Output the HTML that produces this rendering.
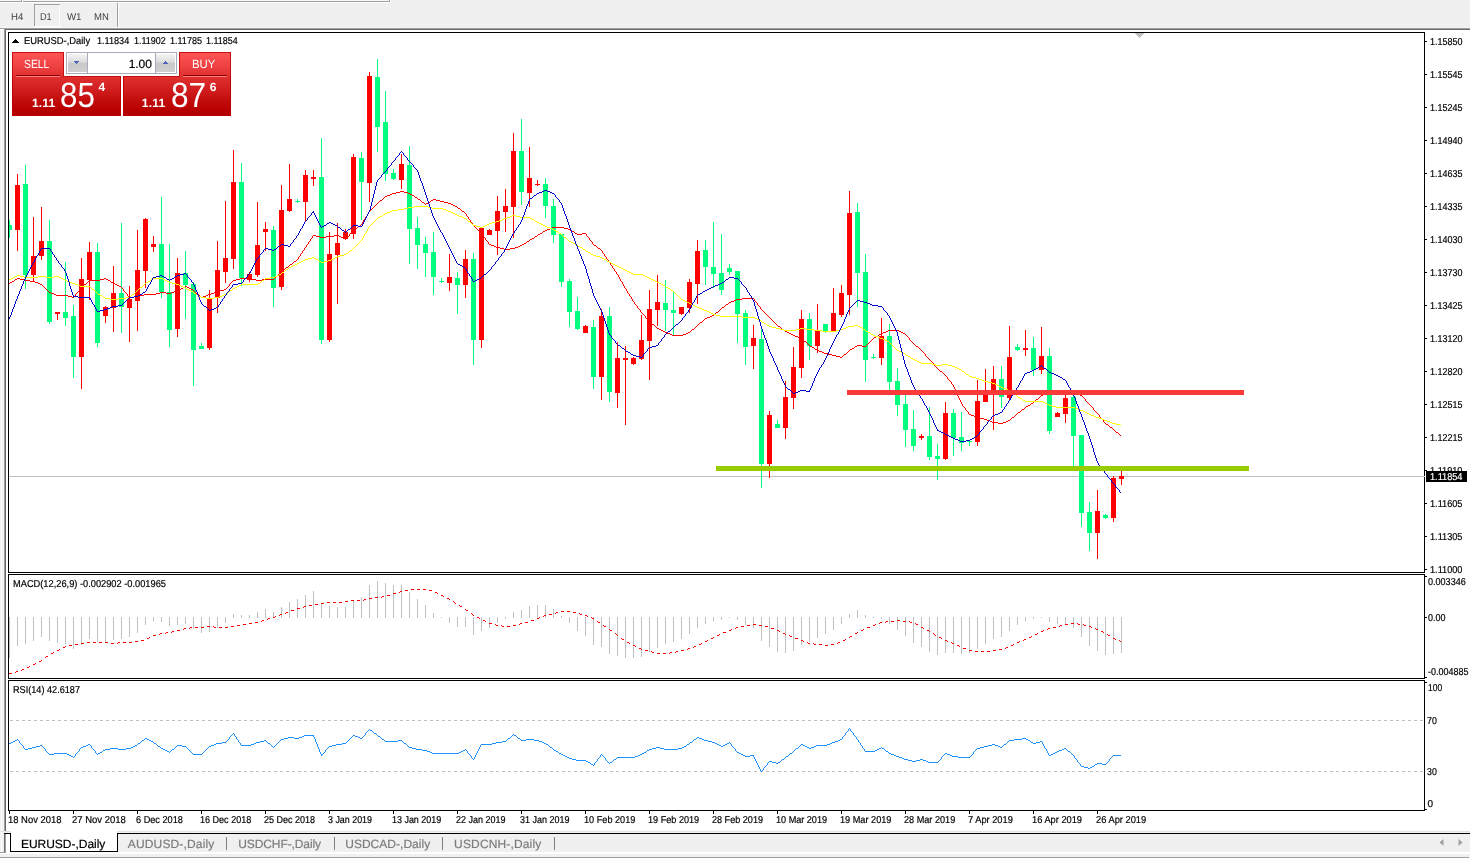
<!DOCTYPE html>
<html><head><meta charset="utf-8"><title>EURUSD-,Daily</title>
<style>
*{box-sizing:border-box}
html,body{margin:0;padding:0}
body{width:1470px;height:859px;overflow:hidden;background:#f0f0f0;position:relative;font-family:"Liberation Sans",sans-serif}
#g{position:absolute;left:0;top:0}
.a{position:absolute}
.t{position:absolute;white-space:nowrap;color:#000;font-size:10px;line-height:1.2;text-rendering:geometricPrecision;-webkit-text-stroke:0.2px currentColor}
.n{-webkit-text-stroke:0}
.tb{color:#404040}
.w{color:#fff}
.b{font-weight:bold}
.rb{background:linear-gradient(#ff5555,#e03030);border:1px solid #c81010}
.rp{background:linear-gradient(#e03030,#b80000 85%,#b00000);border:1px solid #c00000;border-top-color:#c81010}
.sp{background:linear-gradient(#f4f4f4,#dcdcdc 45%,#c8c8c8 50%,#d0d0d0)}
</style></head>
<body>
<div class="a" style="left:0px;top:0px;width:390px;height:1px;background:#f8f8f8;"></div><div class="a" style="left:0px;top:1px;width:390px;height:1px;background:#a0a0a0;"></div><div class="a" style="left:0px;top:2px;width:391px;height:1px;background:#fff;"></div><div class="a" style="left:389px;top:0px;width:1px;height:2px;background:#a0a0a0;"></div><div class="a" style="left:390px;top:0px;width:1px;height:3px;background:#fff;"></div><div class="a" style="left:21px;top:0px;width:1px;height:2px;background:#a0a0a0;"></div><div class="a" style="left:22px;top:0px;width:1px;height:2px;background:#fff;"></div><div class="a" style="left:34px;top:4px;width:26px;height:1px;background:#a0a0a0;"></div><div class="a" style="left:34px;top:4px;width:1px;height:22px;background:#a0a0a0;"></div><div class="a" style="left:59px;top:5px;width:1px;height:22px;background:#fff;"></div><div class="a" style="left:35px;top:26px;width:25px;height:1px;background:#fff;"></div><div class="a" style="left:117px;top:3px;width:1px;height:25px;background:#a0a0a0;"></div><div class="a" style="left:118px;top:3px;width:1px;height:25px;background:#fff;"></div><div class="a" style="left:0px;top:27px;width:400px;height:1px;background:#f8f8f8;"></div><div class="a" style="left:0px;top:28px;width:1470px;height:1px;background:#a0a0a0;"></div><div class="a" style="left:5px;top:29px;width:1465px;height:1px;background:#696969;"></div><div class="a" style="left:0px;top:29px;width:4px;height:1px;background:#fff;"></div><div class="a" style="left:1px;top:30px;width:1px;height:802px;background:#fcfcfc;"></div><div class="a" style="left:3px;top:30px;width:1px;height:802px;background:#f4f4f4;"></div><div class="a" style="left:4px;top:29px;width:1px;height:803px;background:#a0a0a0;"></div><div class="a" style="left:5px;top:30px;width:1px;height:802px;background:#696969;"></div><div class="t tb n" style="left:11.00px;top:12px;font-size:10px;transform:scaleX(0.9600);transform-origin:0 0;">H4</div><div class="t tb n" style="left:39.90px;top:12px;font-size:10px;transform:scaleX(0.9132);transform-origin:0 0;">D1</div><div class="t tb n" style="left:67.30px;top:12px;font-size:10px;transform:scaleX(0.9667);transform-origin:0 0;">W1</div><div class="t tb n" style="left:93.80px;top:12px;font-size:10px;transform:scaleX(0.9510);transform-origin:0 0;">MN</div>
<svg id="g" width="1470" height="859" viewBox="0 0 1470 859" shape-rendering="crispEdges"><rect x="6" y="30" width="1464" height="801" fill="#fff"/><rect x="9" y="476" width="1415" height="1" fill="#c0c0c0"/><g><path fill="#00ff7f" d="M9 220h1v18h-1zM9 225h3v5h-3zM25 165h1v124h-1zM23 184h5v91h-5zM49 220h1v104h-1zM47 241h5v81h-5zM65 262h1v64h-1zM63 312h5v6h-5zM73 305h1v73h-1zM71 316h5v41h-5zM97 243h1v104h-1zM95 252h5v91h-5zM121 223h1v110h-1zM119 293h5v14h-5zM161 197h1v101h-1zM159 244h5v48h-5zM169 244h1v103h-1zM167 292h5v38h-5zM185 251h1v68h-1zM183 273h5v12h-5zM193 282h1v104h-1zM191 284h5v66h-5zM201 343h1v6h-1zM199 346h5v3h-5zM241 163h1v123h-1zM239 182h5v96h-5zM273 226h1v81h-1zM271 230h5v58h-5zM297 199h1v4h-1zM295 201h5v1h-5zM321 138h1v206h-1zM319 177h5v163h-5zM361 152h1v68h-1zM359 158h5v24h-5zM377 59h1v93h-1zM375 77h5v50h-5zM385 91h1v90h-1zM383 122h5v52h-5zM393 169h1v11h-1zM391 173h5v6h-5zM409 146h1v118h-1zM407 165h5v64h-5zM417 217h1v52h-1zM415 228h5v17h-5zM425 237h1v40h-1zM423 244h5v9h-5zM433 232h1v63h-1zM431 252h5v25h-5zM441 278h1v5h-1zM439 281h5v1h-5zM457 272h1v42h-1zM455 278h5v7h-5zM473 253h1v112h-1zM471 259h5v81h-5zM521 119h1v86h-1zM519 151h5v41h-5zM545 178h1v40h-1zM543 184h5v22h-5zM553 199h1v44h-1zM551 206h5v29h-5zM561 234h1v53h-1zM559 234h5v48h-5zM569 279h1v48h-1zM567 281h5v31h-5zM577 297h1v33h-1zM575 311h5v18h-5zM593 320h1v69h-1zM591 327h5v50h-5zM609 307h1v95h-1zM607 316h5v76h-5zM665 280h1v51h-1zM663 303h5v7h-5zM673 292h1v43h-1zM671 310h5v3h-5zM705 240h1v45h-1zM703 250h5v17h-5zM713 222h1v66h-1zM711 267h5v7h-5zM721 234h1v61h-1zM719 273h5v17h-5zM729 264h1v11h-1zM727 268h5v4h-5zM737 271h1v72h-1zM735 271h5v43h-5zM745 310h1v55h-1zM743 313h5v34h-5zM761 329h1v159h-1zM759 339h5v125h-5zM777 420h1v8h-1zM775 424h5v4h-5zM809 313h1v47h-1zM807 319h5v27h-5zM825 324h1v9h-1zM823 324h5v8h-5zM857 203h1v104h-1zM855 212h5v61h-5zM865 254h1v128h-1zM863 272h5v88h-5zM873 354h1v5h-1zM871 357h5v1h-5zM889 324h1v68h-1zM887 336h5v46h-5zM897 368h1v48h-1zM895 381h5v24h-5zM905 392h1v55h-1zM903 404h5v26h-5zM913 410h1v41h-1zM911 429h5v17h-5zM929 407h1v53h-1zM927 436h5v21h-5zM937 444h1v36h-1zM935 456h5v3h-5zM953 409h1v47h-1zM951 413h5v25h-5zM961 412h1v39h-1zM959 437h5v6h-5zM969 440h1v6h-1zM967 441h5v1h-5zM1001 366h1v42h-1zM999 379h5v18h-5zM1017 344h1v7h-1zM1015 347h5v3h-5zM1033 337h1v39h-1zM1031 348h5v22h-5zM1049 348h1v86h-1zM1047 356h5v75h-5zM1073 392h1v76h-1zM1071 397h5v39h-5zM1081 435h1v92h-1zM1079 435h5v78h-5zM1089 502h1v49h-1zM1087 512h5v21h-5zM1105 514h1v5h-1zM1103 515h5v3h-5z"/><path fill="#ff0000" d="M17 174h1v77h-1zM15 185h5v45h-5zM33 217h1v64h-1zM31 256h5v19h-5zM41 207h1v53h-1zM39 241h5v15h-5zM57 312h1v8h-1zM55 312h5v2h-5zM81 258h1v131h-1zM79 279h5v78h-5zM89 242h1v58h-1zM87 252h5v28h-5zM105 306h1v17h-1zM103 307h5v9h-5zM113 266h1v66h-1zM111 293h5v15h-5zM129 286h1v56h-1zM127 299h5v9h-5zM137 230h1v101h-1zM135 270h5v31h-5zM145 218h1v70h-1zM143 219h5v52h-5zM153 236h1v16h-1zM151 244h5v3h-5zM177 258h1v79h-1zM175 273h5v56h-5zM209 290h1v60h-1zM207 299h5v49h-5zM217 241h1v72h-1zM215 270h5v28h-5zM225 201h1v82h-1zM223 258h5v14h-5zM233 150h1v119h-1zM231 182h5v77h-5zM249 272h1v10h-1zM247 274h5v6h-5zM257 202h1v75h-1zM255 245h5v30h-5zM265 222h1v29h-1zM263 229h5v3h-5zM281 185h1v105h-1zM279 210h5v77h-5zM289 164h1v48h-1zM287 199h5v12h-5zM305 170h1v51h-1zM303 175h5v27h-5zM313 170h1v16h-1zM311 177h5v2h-5zM329 232h1v110h-1zM327 254h5v86h-5zM337 223h1v81h-1zM335 243h5v12h-5zM345 229h1v11h-1zM343 232h5v7h-5zM353 154h1v85h-1zM351 157h5v77h-5zM369 72h1v130h-1zM367 76h5v107h-5zM401 154h1v35h-1zM399 164h5v16h-5zM449 254h1v37h-1zM447 277h5v6h-5zM465 250h1v48h-1zM463 259h5v26h-5zM481 227h1v121h-1zM479 228h5v112h-5zM489 229h1v6h-1zM487 230h5v5h-5zM497 196h1v59h-1zM495 211h5v20h-5zM505 189h1v43h-1zM503 206h5v6h-5zM513 133h1v105h-1zM511 151h5v56h-5zM529 147h1v60h-1zM527 178h5v15h-5zM537 180h1v6h-1zM535 184h5v1h-5zM585 325h1v8h-1zM583 326h5v7h-5zM601 309h1v91h-1zM599 316h5v61h-5zM617 342h1v66h-1zM615 358h5v35h-5zM625 346h1v79h-1zM623 358h5v2h-5zM633 357h1v8h-1zM631 358h5v6h-5zM641 315h1v45h-1zM639 340h5v19h-5zM649 290h1v90h-1zM647 309h5v32h-5zM657 275h1v51h-1zM655 302h5v8h-5zM681 307h1v8h-1zM679 307h5v7h-5zM689 279h1v34h-1zM687 282h5v26h-5zM697 240h1v64h-1zM695 251h5v33h-5zM753 325h1v44h-1zM751 338h5v8h-5zM769 411h1v67h-1zM767 415h5v49h-5zM785 381h1v58h-1zM783 397h5v31h-5zM793 347h1v62h-1zM791 367h5v31h-5zM801 310h1v68h-1zM799 319h5v49h-5zM817 304h1v49h-1zM815 331h5v15h-5zM833 288h1v43h-1zM831 313h5v18h-5zM841 285h1v32h-1zM839 293h5v22h-5zM849 191h1v124h-1zM847 213h5v82h-5zM881 318h1v47h-1zM879 336h5v22h-5zM921 434h1v6h-1zM919 436h5v2h-5zM945 402h1v58h-1zM943 413h5v46h-5zM977 380h1v66h-1zM975 401h5v41h-5zM985 369h1v33h-1zM983 392h5v10h-5zM993 366h1v64h-1zM991 379h5v13h-5zM1009 326h1v74h-1zM1007 357h5v41h-5zM1025 330h1v26h-1zM1023 348h5v2h-5zM1041 327h1v47h-1zM1039 356h5v14h-5zM1057 412h1v5h-1zM1055 413h5v4h-5zM1065 392h1v31h-1zM1063 398h5v16h-5zM1097 490h1v69h-1zM1095 511h5v22h-5zM1113 476h1v46h-1zM1111 478h5v40h-5zM1121 468h1v17h-1zM1119 476h5v3h-5z"/><path fill="#ff0000" d="M400 191h4v1h-4zM396 192h4v1h-4zM404 192h4v1h-4zM392 193h4v1h-4zM408 193h2v1h-2zM390 194h2v1h-2zM410 194h2v1h-2zM387 195h3v1h-3zM412 195h2v1h-2zM385 196h2v1h-2zM414 196h1v1h-1zM384 197h1v1h-1zM415 197h2v1h-2zM383 198h1v1h-1zM417 198h1v1h-1zM382 199h1v1h-1zM418 199h2v1h-2zM433 199h3v1h-3zM380 200h2v1h-2zM420 200h1v1h-1zM431 200h2v1h-2zM436 200h4v1h-4zM379 201h1v1h-1zM421 201h1v1h-1zM430 201h1v1h-1zM440 201h4v1h-4zM378 202h1v1h-1zM422 202h2v1h-2zM428 202h2v1h-2zM444 202h4v1h-4zM377 203h1v1h-1zM424 203h1v1h-1zM426 203h2v1h-2zM448 203h3v1h-3zM376 204h1v1h-1zM425 204h1v1h-1zM451 204h2v1h-2zM375 205h1v1h-1zM453 205h2v1h-2zM374 206h1v1h-1zM455 206h2v1h-2zM373 207h1v1h-1zM457 207h1v1h-1zM372 208h1v1h-1zM458 208h2v1h-2zM371 209h1v1h-1zM460 209h1v1h-1zM370 210h1v1h-1zM461 210h1v1h-1zM369 211h1v1h-1zM462 211h2v1h-2zM368 212h1v2h-1zM464 212h1v1h-1zM465 213h1v1h-1zM367 214h1v2h-1zM466 214h1v2h-1zM366 216h1v1h-1zM467 216h1v1h-1zM365 217h1v2h-1zM468 217h1v2h-1zM364 219h1v1h-1zM469 219h1v1h-1zM363 220h1v2h-1zM470 220h1v2h-1zM362 222h1v2h-1zM471 222h1v1h-1zM472 223h1v2h-1zM361 224h1v1h-1zM360 225h1v1h-1zM473 225h1v1h-1zM358 226h2v1h-2zM474 226h1v1h-1zM357 227h1v1h-1zM475 227h1v1h-1zM552 227h12v1h-12zM356 228h1v1h-1zM476 228h1v1h-1zM550 228h2v1h-2zM564 228h4v1h-4zM354 229h2v1h-2zM477 229h1v1h-1zM547 229h3v1h-3zM568 229h2v1h-2zM353 230h1v1h-1zM478 230h1v1h-1zM545 230h2v1h-2zM570 230h2v1h-2zM352 231h1v1h-1zM479 231h1v1h-1zM543 231h2v1h-2zM572 231h2v1h-2zM351 232h1v1h-1zM480 232h1v1h-1zM542 232h1v1h-1zM574 232h1v1h-1zM350 233h1v1h-1zM481 233h1v1h-1zM540 233h2v1h-2zM575 233h2v1h-2zM582 233h4v1h-4zM349 234h1v2h-1zM482 234h1v2h-1zM538 234h2v1h-2zM577 234h5v1h-5zM586 234h1v2h-1zM313 235h3v1h-3zM334 235h5v1h-5zM537 235h1v1h-1zM312 236h1v2h-1zM316 236h4v1h-4zM326 236h8v1h-8zM339 236h2v1h-2zM348 236h1v1h-1zM483 236h1v1h-1zM535 236h2v1h-2zM587 236h1v1h-1zM320 237h6v1h-6zM341 237h2v1h-2zM347 237h1v1h-1zM484 237h1v1h-1zM534 237h1v1h-1zM588 237h1v1h-1zM311 238h1v1h-1zM343 238h2v1h-2zM346 238h1v1h-1zM485 238h1v2h-1zM532 238h2v1h-2zM589 238h1v2h-1zM310 239h1v2h-1zM345 239h1v1h-1zM530 239h2v1h-2zM486 240h1v1h-1zM529 240h1v1h-1zM590 240h1v1h-1zM309 241h1v1h-1zM487 241h1v1h-1zM527 241h2v1h-2zM591 241h1v1h-1zM308 242h1v2h-1zM488 242h1v2h-1zM526 242h1v1h-1zM592 242h1v2h-1zM524 243h2v1h-2zM307 244h1v1h-1zM489 244h2v1h-2zM522 244h2v1h-2zM593 244h1v1h-1zM306 245h1v2h-1zM491 245h3v1h-3zM520 245h2v1h-2zM594 245h2v1h-2zM494 246h2v1h-2zM518 246h2v1h-2zM596 246h1v1h-1zM305 247h1v1h-1zM496 247h4v1h-4zM515 247h3v1h-3zM597 247h1v1h-1zM304 248h1v2h-1zM500 248h4v1h-4zM510 248h5v1h-5zM598 248h2v1h-2zM504 249h6v1h-6zM600 249h1v1h-1zM303 250h1v1h-1zM601 250h1v1h-1zM302 251h1v2h-1zM602 251h1v2h-1zM301 253h1v1h-1zM603 253h1v1h-1zM300 254h1v2h-1zM604 254h1v2h-1zM299 256h1v1h-1zM605 256h1v1h-1zM298 257h1v2h-1zM606 257h1v2h-1zM297 259h1v1h-1zM607 259h1v1h-1zM296 260h1v1h-1zM608 260h1v2h-1zM294 261h2v1h-2zM293 262h1v1h-1zM609 262h1v1h-1zM292 263h1v1h-1zM610 263h1v2h-1zM290 264h2v1h-2zM289 265h1v1h-1zM611 265h1v1h-1zM288 266h1v1h-1zM612 266h1v2h-1zM286 267h2v1h-2zM285 268h1v1h-1zM613 268h1v1h-1zM284 269h1v1h-1zM614 269h1v2h-1zM282 270h2v1h-2zM281 271h1v1h-1zM615 271h1v1h-1zM280 272h1v1h-1zM616 272h1v2h-1zM279 273h1v1h-1zM278 274h1v1h-1zM617 274h1v1h-1zM277 275h1v1h-1zM618 275h1v2h-1zM276 276h1v1h-1zM275 277h1v1h-1zM619 277h1v2h-1zM17 278h3v1h-3zM104 278h2v1h-2zM240 278h12v1h-12zM274 278h1v1h-1zM15 279h2v1h-2zM20 279h4v1h-4zM100 279h4v1h-4zM106 279h2v1h-2zM236 279h4v1h-4zM252 279h4v1h-4zM262 279h12v1h-12zM620 279h1v2h-1zM14 280h1v1h-1zM24 280h6v1h-6zM89 280h11v1h-11zM108 280h2v1h-2zM233 280h3v1h-3zM256 280h6v1h-6zM12 281h2v1h-2zM30 281h5v1h-5zM88 281h1v1h-1zM110 281h1v1h-1zM232 281h1v1h-1zM621 281h1v1h-1zM10 282h2v1h-2zM35 282h3v1h-3zM87 282h1v1h-1zM111 282h2v1h-2zM231 282h1v1h-1zM622 282h1v2h-1zM9 283h1v1h-1zM38 283h2v1h-2zM86 283h1v1h-1zM113 283h2v1h-2zM230 283h1v1h-1zM40 284h2v1h-2zM84 284h2v1h-2zM115 284h2v1h-2zM229 284h1v2h-1zM623 284h1v2h-1zM42 285h1v1h-1zM83 285h1v1h-1zM117 285h2v1h-2zM43 286h1v1h-1zM82 286h1v1h-1zM119 286h2v1h-2zM185 286h2v1h-2zM228 286h1v1h-1zM624 286h1v2h-1zM44 287h1v1h-1zM81 287h1v1h-1zM121 287h1v1h-1zM183 287h2v1h-2zM187 287h2v1h-2zM227 287h1v1h-1zM45 288h1v1h-1zM80 288h1v1h-1zM122 288h1v1h-1zM181 288h2v1h-2zM189 288h2v1h-2zM226 288h1v1h-1zM625 288h1v1h-1zM46 289h1v1h-1zM79 289h1v2h-1zM123 289h1v2h-1zM179 289h2v1h-2zM191 289h2v1h-2zM224 289h2v1h-2zM626 289h1v2h-1zM47 290h1v1h-1zM176 290h3v1h-3zM193 290h1v1h-1zM220 290h4v1h-4zM48 291h1v1h-1zM78 291h1v1h-1zM124 291h1v1h-1zM174 291h2v1h-2zM194 291h1v1h-1zM216 291h4v1h-4zM627 291h1v2h-1zM49 292h2v1h-2zM77 292h1v1h-1zM125 292h1v1h-1zM160 292h6v1h-6zM171 292h3v1h-3zM195 292h1v1h-1zM214 292h2v1h-2zM51 293h3v1h-3zM76 293h1v1h-1zM126 293h1v1h-1zM156 293h4v1h-4zM166 293h5v1h-5zM196 293h2v1h-2zM211 293h3v1h-3zM628 293h1v1h-1zM54 294h2v1h-2zM75 294h1v2h-1zM127 294h1v2h-1zM144 294h12v1h-12zM198 294h1v1h-1zM208 294h3v1h-3zM629 294h1v2h-1zM56 295h12v1h-12zM140 295h4v1h-4zM199 295h1v1h-1zM206 295h2v1h-2zM68 296h4v1h-4zM74 296h1v1h-1zM128 296h1v1h-1zM134 296h6v1h-6zM200 296h1v1h-1zM203 296h3v1h-3zM630 296h1v1h-1zM72 297h2v1h-2zM129 297h5v1h-5zM201 297h2v1h-2zM631 297h1v2h-1zM742 298h12v1h-12zM632 299h1v2h-1zM736 299h6v1h-6zM754 299h1v2h-1zM734 300h2v1h-2zM633 301h1v1h-1zM731 301h3v1h-3zM755 301h1v1h-1zM634 302h1v2h-1zM729 302h2v1h-2zM756 302h1v1h-1zM728 303h1v1h-1zM757 303h1v2h-1zM635 304h1v1h-1zM726 304h2v1h-2zM636 305h1v1h-1zM725 305h1v1h-1zM758 305h1v1h-1zM637 306h1v2h-1zM724 306h1v1h-1zM759 306h1v1h-1zM722 307h2v1h-2zM760 307h1v2h-1zM638 308h1v1h-1zM721 308h1v1h-1zM639 309h1v1h-1zM720 309h1v1h-1zM761 309h1v1h-1zM640 310h1v2h-1zM719 310h1v1h-1zM762 310h1v1h-1zM718 311h1v1h-1zM763 311h1v1h-1zM641 312h1v1h-1zM716 312h2v1h-2zM764 312h1v1h-1zM642 313h1v1h-1zM715 313h1v1h-1zM765 313h1v1h-1zM643 314h1v1h-1zM714 314h1v1h-1zM766 314h1v1h-1zM644 315h1v1h-1zM712 315h2v1h-2zM767 315h1v1h-1zM645 316h1v2h-1zM710 316h2v1h-2zM768 316h1v1h-1zM707 317h3v1h-3zM769 317h1v1h-1zM646 318h1v1h-1zM705 318h2v1h-2zM770 318h1v1h-1zM647 319h1v1h-1zM704 319h1v1h-1zM771 319h1v1h-1zM648 320h1v1h-1zM703 320h1v1h-1zM772 320h1v1h-1zM649 321h1v1h-1zM702 321h1v1h-1zM773 321h1v1h-1zM650 322h1v1h-1zM700 322h2v1h-2zM774 322h1v1h-1zM651 323h1v1h-1zM699 323h1v1h-1zM775 323h1v1h-1zM652 324h2v1h-2zM698 324h1v1h-1zM776 324h1v1h-1zM654 325h1v1h-1zM697 325h1v1h-1zM777 325h1v1h-1zM655 326h1v1h-1zM696 326h1v1h-1zM778 326h2v1h-2zM656 327h1v1h-1zM695 327h1v1h-1zM780 327h1v1h-1zM657 328h2v1h-2zM694 328h1v1h-1zM781 328h1v1h-1zM659 329h2v1h-2zM692 329h2v1h-2zM782 329h2v1h-2zM661 330h2v1h-2zM691 330h1v1h-1zM784 330h1v1h-1zM888 330h11v1h-11zM663 331h2v1h-2zM690 331h1v1h-1zM785 331h2v1h-2zM886 331h2v1h-2zM899 331h2v1h-2zM665 332h2v1h-2zM688 332h2v1h-2zM787 332h2v1h-2zM883 332h3v1h-3zM901 332h2v1h-2zM667 333h3v1h-3zM686 333h2v1h-2zM789 333h2v1h-2zM881 333h2v1h-2zM903 333h2v1h-2zM670 334h2v1h-2zM683 334h3v1h-3zM791 334h2v1h-2zM879 334h2v1h-2zM905 334h1v1h-1zM672 335h11v1h-11zM793 335h2v1h-2zM878 335h1v1h-1zM906 335h1v1h-1zM795 336h3v1h-3zM876 336h2v1h-2zM907 336h1v1h-1zM798 337h2v1h-2zM874 337h2v1h-2zM908 337h1v1h-1zM800 338h2v1h-2zM873 338h1v1h-1zM909 338h1v2h-1zM802 339h1v1h-1zM872 339h1v1h-1zM803 340h1v1h-1zM871 340h1v1h-1zM910 340h1v1h-1zM804 341h2v1h-2zM870 341h1v1h-1zM911 341h1v1h-1zM806 342h1v1h-1zM869 342h1v1h-1zM912 342h1v1h-1zM807 343h1v1h-1zM868 343h1v1h-1zM913 343h1v1h-1zM808 344h1v1h-1zM867 344h1v1h-1zM914 344h1v1h-1zM809 345h1v1h-1zM857 345h5v1h-5zM866 345h1v1h-1zM915 345h1v1h-1zM810 346h2v1h-2zM855 346h2v1h-2zM862 346h4v1h-4zM916 346h2v1h-2zM812 347h2v1h-2zM854 347h1v1h-1zM918 347h1v1h-1zM814 348h1v1h-1zM852 348h2v1h-2zM919 348h1v1h-1zM815 349h2v1h-2zM850 349h2v1h-2zM920 349h1v1h-1zM817 350h2v1h-2zM849 350h1v1h-1zM921 350h1v1h-1zM819 351h3v1h-3zM848 351h1v1h-1zM922 351h1v1h-1zM822 352h2v1h-2zM847 352h1v1h-1zM923 352h1v1h-1zM824 353h4v1h-4zM846 353h1v1h-1zM924 353h1v1h-1zM828 354h4v1h-4zM844 354h2v1h-2zM925 354h1v2h-1zM832 355h4v1h-4zM843 355h1v1h-1zM836 356h4v1h-4zM842 356h1v1h-1zM926 356h1v1h-1zM840 357h2v1h-2zM927 357h1v1h-1zM928 358h1v1h-1zM929 359h1v1h-1zM930 360h1v1h-1zM931 361h1v1h-1zM932 362h1v1h-1zM933 363h1v2h-1zM934 365h1v1h-1zM935 366h1v1h-1zM936 367h1v1h-1zM937 368h1v1h-1zM938 369h1v1h-1zM939 370h1v1h-1zM940 371h2v1h-2zM942 372h1v1h-1zM943 373h1v1h-1zM944 374h1v1h-1zM945 375h1v1h-1zM946 376h1v1h-1zM947 377h1v2h-1zM948 379h1v1h-1zM949 380h1v1h-1zM950 381h1v1h-1zM951 382h1v2h-1zM952 384h1v1h-1zM953 385h1v2h-1zM954 387h1v2h-1zM955 389h1v2h-1zM956 391h1v2h-1zM1054 391h16v1h-16zM1048 392h6v1h-6zM1070 392h5v1h-5zM957 393h1v3h-1zM1046 393h2v1h-2zM1075 393h3v1h-3zM1043 394h3v1h-3zM1078 394h2v1h-2zM1041 395h2v1h-2zM1080 395h2v1h-2zM958 396h1v2h-1zM1040 396h1v1h-1zM1082 396h1v1h-1zM1039 397h1v1h-1zM1083 397h1v1h-1zM959 398h1v2h-1zM1038 398h1v1h-1zM1084 398h1v1h-1zM1036 399h2v1h-2zM1085 399h1v2h-1zM960 400h1v2h-1zM1035 400h1v1h-1zM1034 401h1v1h-1zM1086 401h1v1h-1zM961 402h1v2h-1zM1033 402h1v1h-1zM1087 402h1v1h-1zM1031 403h2v1h-2zM1088 403h1v1h-1zM962 404h1v2h-1zM1030 404h1v1h-1zM1089 404h1v1h-1zM1028 405h2v1h-2zM1090 405h1v1h-1zM963 406h1v1h-1zM1026 406h2v1h-2zM1091 406h1v1h-1zM964 407h1v1h-1zM1025 407h1v1h-1zM1092 407h1v1h-1zM965 408h1v2h-1zM1024 408h1v1h-1zM1093 408h1v2h-1zM1022 409h2v1h-2zM966 410h1v1h-1zM1021 410h1v1h-1zM1094 410h1v1h-1zM967 411h1v1h-1zM1020 411h1v1h-1zM1095 411h1v1h-1zM968 412h1v2h-1zM1018 412h2v1h-2zM1096 412h1v1h-1zM1017 413h1v1h-1zM1097 413h1v1h-1zM969 414h2v1h-2zM1016 414h1v1h-1zM1098 414h1v1h-1zM971 415h3v1h-3zM1015 415h1v1h-1zM1099 415h1v2h-1zM974 416h2v1h-2zM1014 416h1v1h-1zM976 417h4v1h-4zM1012 417h2v1h-2zM1100 417h1v1h-1zM980 418h4v1h-4zM1011 418h1v1h-1zM1101 418h1v1h-1zM984 419h3v1h-3zM1010 419h1v1h-1zM1102 419h1v1h-1zM987 420h3v1h-3zM1008 420h2v1h-2zM1103 420h1v2h-1zM990 421h2v1h-2zM1006 421h2v1h-2zM992 422h6v1h-6zM1003 422h3v1h-3zM1104 422h1v1h-1zM998 423h5v1h-5zM1105 423h1v1h-1zM1106 424h2v1h-2zM1108 425h1v1h-1zM1109 426h1v1h-1zM1110 427h2v1h-2zM1112 428h1v1h-1zM1113 429h1v1h-1zM1114 430h1v1h-1zM1115 431h1v1h-1zM1116 432h2v1h-2zM1118 433h1v1h-1zM1119 434h1v1h-1zM1120 435h1v1h-1z"/><path fill="#ffff00" d="M414 206h14v1h-14zM408 207h6v1h-6zM428 207h4v1h-4zM404 208h4v1h-4zM432 208h11v1h-11zM398 209h6v1h-6zM443 209h3v1h-3zM392 210h6v1h-6zM446 210h2v1h-2zM390 211h2v1h-2zM448 211h3v1h-3zM387 212h3v1h-3zM451 212h2v1h-2zM385 213h2v1h-2zM453 213h2v1h-2zM383 214h2v1h-2zM455 214h2v1h-2zM382 215h1v1h-1zM457 215h2v1h-2zM512 215h4v1h-4zM380 216h2v1h-2zM459 216h3v1h-3zM510 216h2v1h-2zM516 216h4v1h-4zM378 217h2v1h-2zM462 217h2v1h-2zM507 217h3v1h-3zM520 217h10v1h-10zM377 218h1v1h-1zM464 218h2v1h-2zM504 218h3v1h-3zM530 218h2v1h-2zM376 219h1v1h-1zM466 219h1v1h-1zM502 219h2v1h-2zM532 219h2v1h-2zM375 220h1v1h-1zM467 220h1v1h-1zM499 220h3v1h-3zM534 220h1v1h-1zM374 221h1v1h-1zM468 221h2v1h-2zM496 221h3v1h-3zM535 221h2v1h-2zM373 222h1v1h-1zM470 222h1v1h-1zM492 222h4v1h-4zM537 222h2v1h-2zM372 223h1v1h-1zM471 223h1v1h-1zM489 223h3v1h-3zM539 223h2v1h-2zM371 224h1v1h-1zM472 224h1v1h-1zM487 224h2v1h-2zM541 224h2v1h-2zM370 225h1v1h-1zM473 225h3v1h-3zM485 225h2v1h-2zM543 225h2v1h-2zM369 226h1v1h-1zM476 226h4v1h-4zM483 226h2v1h-2zM545 226h2v1h-2zM368 227h1v2h-1zM480 227h3v1h-3zM547 227h3v1h-3zM550 228h2v1h-2zM367 229h1v2h-1zM552 229h2v1h-2zM554 230h2v1h-2zM366 231h1v2h-1zM556 231h2v1h-2zM558 232h1v1h-1zM365 233h1v1h-1zM559 233h2v1h-2zM364 234h1v2h-1zM561 234h1v1h-1zM562 235h1v1h-1zM363 236h1v2h-1zM563 236h1v1h-1zM564 237h2v1h-2zM362 238h1v2h-1zM566 238h1v1h-1zM567 239h1v1h-1zM361 240h1v1h-1zM568 240h1v1h-1zM360 241h1v1h-1zM569 241h2v1h-2zM359 242h1v1h-1zM571 242h2v1h-2zM358 243h1v1h-1zM573 243h2v1h-2zM357 244h1v1h-1zM575 244h2v1h-2zM356 245h1v1h-1zM577 245h1v1h-1zM355 246h1v1h-1zM578 246h2v1h-2zM354 247h1v1h-1zM580 247h2v1h-2zM353 248h1v1h-1zM582 248h1v1h-1zM352 249h1v1h-1zM583 249h2v1h-2zM350 250h2v1h-2zM585 250h1v1h-1zM349 251h1v1h-1zM586 251h2v1h-2zM348 252h1v1h-1zM588 252h2v1h-2zM346 253h2v1h-2zM590 253h1v1h-1zM344 254h2v1h-2zM591 254h2v1h-2zM340 255h4v1h-4zM593 255h3v1h-3zM337 256h3v1h-3zM596 256h4v1h-4zM312 257h2v1h-2zM335 257h2v1h-2zM600 257h2v1h-2zM308 258h4v1h-4zM314 258h2v1h-2zM333 258h2v1h-2zM602 258h2v1h-2zM305 259h3v1h-3zM316 259h2v1h-2zM331 259h2v1h-2zM604 259h2v1h-2zM303 260h2v1h-2zM318 260h1v1h-1zM328 260h3v1h-3zM606 260h1v1h-1zM301 261h2v1h-2zM319 261h2v1h-2zM324 261h4v1h-4zM607 261h2v1h-2zM299 262h2v1h-2zM321 262h3v1h-3zM609 262h2v1h-2zM297 263h2v1h-2zM611 263h2v1h-2zM295 264h2v1h-2zM613 264h2v1h-2zM293 265h2v1h-2zM615 265h2v1h-2zM291 266h2v1h-2zM617 266h2v1h-2zM289 267h2v1h-2zM619 267h2v1h-2zM288 268h1v1h-1zM621 268h2v1h-2zM286 269h2v1h-2zM623 269h2v1h-2zM285 270h1v1h-1zM625 270h2v1h-2zM284 271h1v1h-1zM627 271h2v1h-2zM282 272h2v1h-2zM629 272h2v1h-2zM281 273h1v1h-1zM631 273h2v1h-2zM279 274h2v1h-2zM633 274h10v1h-10zM17 275h3v1h-3zM277 275h2v1h-2zM643 275h2v1h-2zM15 276h2v1h-2zM20 276h4v1h-4zM38 276h8v1h-8zM54 276h5v1h-5zM275 276h2v1h-2zM645 276h2v1h-2zM13 277h2v1h-2zM24 277h14v1h-14zM46 277h8v1h-8zM59 277h2v1h-2zM270 277h5v1h-5zM647 277h2v1h-2zM11 278h2v1h-2zM61 278h2v1h-2zM153 278h10v1h-10zM265 278h5v1h-5zM649 278h2v1h-2zM9 279h2v1h-2zM63 279h2v1h-2zM151 279h2v1h-2zM163 279h2v1h-2zM264 279h1v1h-1zM651 279h2v1h-2zM65 280h2v1h-2zM150 280h1v1h-1zM165 280h2v1h-2zM262 280h2v1h-2zM653 280h2v1h-2zM67 281h3v1h-3zM148 281h2v1h-2zM167 281h2v1h-2zM261 281h1v1h-1zM655 281h2v1h-2zM70 282h2v1h-2zM146 282h2v1h-2zM169 282h3v1h-3zM260 282h1v1h-1zM657 282h2v1h-2zM72 283h3v1h-3zM145 283h1v1h-1zM172 283h4v1h-4zM258 283h2v1h-2zM659 283h2v1h-2zM75 284h3v1h-3zM144 284h1v1h-1zM176 284h3v1h-3zM241 284h17v1h-17zM661 284h2v1h-2zM78 285h2v1h-2zM143 285h1v1h-1zM179 285h2v1h-2zM239 285h2v1h-2zM663 285h2v1h-2zM80 286h10v1h-10zM142 286h1v1h-1zM181 286h2v1h-2zM237 286h2v1h-2zM665 286h1v1h-1zM90 287h1v1h-1zM140 287h2v1h-2zM183 287h2v1h-2zM235 287h2v1h-2zM666 287h2v1h-2zM91 288h1v1h-1zM139 288h1v1h-1zM185 288h2v1h-2zM233 288h2v1h-2zM668 288h2v1h-2zM92 289h2v1h-2zM138 289h1v1h-1zM187 289h2v1h-2zM232 289h1v1h-1zM670 289h1v1h-1zM94 290h1v1h-1zM137 290h1v1h-1zM189 290h2v1h-2zM230 290h2v1h-2zM671 290h2v1h-2zM95 291h1v1h-1zM136 291h1v1h-1zM191 291h2v1h-2zM229 291h1v1h-1zM673 291h1v1h-1zM96 292h1v1h-1zM135 292h1v1h-1zM193 292h1v1h-1zM228 292h1v1h-1zM674 292h1v1h-1zM97 293h1v1h-1zM134 293h1v1h-1zM194 293h2v1h-2zM226 293h2v1h-2zM675 293h1v1h-1zM98 294h2v1h-2zM132 294h2v1h-2zM196 294h2v1h-2zM224 294h2v1h-2zM676 294h1v1h-1zM100 295h2v1h-2zM131 295h1v1h-1zM198 295h1v1h-1zM222 295h2v1h-2zM677 295h1v1h-1zM102 296h1v1h-1zM130 296h1v1h-1zM199 296h2v1h-2zM219 296h3v1h-3zM678 296h1v1h-1zM103 297h2v1h-2zM126 297h4v1h-4zM201 297h5v1h-5zM214 297h5v1h-5zM679 297h1v1h-1zM105 298h5v1h-5zM118 298h8v1h-8zM206 298h8v1h-8zM680 298h1v1h-1zM110 299h8v1h-8zM681 299h2v1h-2zM683 300h2v1h-2zM685 301h2v1h-2zM687 302h2v1h-2zM689 303h2v1h-2zM691 304h2v1h-2zM693 305h2v1h-2zM695 306h2v1h-2zM697 307h2v1h-2zM699 308h3v1h-3zM702 309h2v1h-2zM704 310h3v1h-3zM707 311h2v1h-2zM709 312h2v1h-2zM711 313h2v1h-2zM713 314h3v1h-3zM716 315h4v1h-4zM720 316h22v1h-22zM742 317h13v1h-13zM755 318h2v1h-2zM757 319h2v1h-2zM759 320h2v1h-2zM761 321h1v1h-1zM762 322h2v1h-2zM764 323h2v1h-2zM766 324h1v1h-1zM767 325h2v1h-2zM854 325h4v1h-4zM769 326h3v1h-3zM848 326h6v1h-6zM858 326h2v1h-2zM772 327h4v1h-4zM846 327h2v1h-2zM860 327h2v1h-2zM776 328h4v1h-4zM800 328h6v1h-6zM843 328h3v1h-3zM862 328h1v1h-1zM780 329h4v1h-4zM796 329h4v1h-4zM806 329h8v1h-8zM840 329h3v1h-3zM863 329h2v1h-2zM784 330h12v1h-12zM814 330h8v1h-8zM836 330h4v1h-4zM865 330h1v1h-1zM822 331h14v1h-14zM866 331h2v1h-2zM868 332h2v1h-2zM870 333h1v1h-1zM871 334h2v1h-2zM873 335h2v1h-2zM875 336h3v1h-3zM878 337h2v1h-2zM880 338h3v1h-3zM883 339h2v1h-2zM885 340h2v1h-2zM887 341h2v1h-2zM889 342h1v1h-1zM890 343h1v1h-1zM891 344h1v1h-1zM892 345h1v1h-1zM893 346h1v1h-1zM894 347h1v1h-1zM895 348h1v1h-1zM896 349h1v1h-1zM897 350h2v1h-2zM899 351h2v1h-2zM901 352h2v1h-2zM903 353h2v1h-2zM905 354h1v1h-1zM906 355h2v1h-2zM908 356h2v1h-2zM910 357h1v1h-1zM911 358h2v1h-2zM913 359h2v1h-2zM915 360h2v1h-2zM917 361h2v1h-2zM919 362h2v1h-2zM921 363h11v1h-11zM932 364h4v1h-4zM942 364h6v1h-6zM936 365h6v1h-6zM948 365h4v1h-4zM952 366h3v1h-3zM955 367h2v1h-2zM957 368h2v1h-2zM959 369h2v1h-2zM961 370h1v1h-1zM962 371h2v1h-2zM964 372h1v1h-1zM965 373h1v1h-1zM966 374h2v1h-2zM968 375h1v1h-1zM969 376h3v1h-3zM972 377h4v1h-4zM976 378h3v1h-3zM979 379h3v1h-3zM982 380h2v1h-2zM984 381h4v1h-4zM988 382h4v1h-4zM992 383h3v1h-3zM995 384h2v1h-2zM997 385h2v1h-2zM999 386h2v1h-2zM1001 387h2v1h-2zM1003 388h3v1h-3zM1006 389h2v1h-2zM1008 390h2v1h-2zM1010 391h2v1h-2zM1012 392h1v1h-1zM1013 393h1v1h-1zM1014 394h2v1h-2zM1016 395h1v1h-1zM1017 396h1v1h-1zM1018 397h2v1h-2zM1020 398h2v1h-2zM1022 399h1v1h-1zM1023 400h2v1h-2zM1025 401h18v1h-18zM1043 402h2v1h-2zM1045 403h2v1h-2zM1047 404h2v1h-2zM1049 405h3v1h-3zM1052 406h4v1h-4zM1056 407h19v1h-19zM1075 408h3v1h-3zM1078 409h2v1h-2zM1080 410h3v1h-3zM1083 411h2v1h-2zM1085 412h2v1h-2zM1087 413h2v1h-2zM1089 414h2v1h-2zM1091 415h3v1h-3zM1094 416h2v1h-2zM1096 417h3v1h-3zM1099 418h3v1h-3zM1102 419h2v1h-2zM1104 420h3v1h-3zM1107 421h3v1h-3zM1110 422h2v1h-2zM1112 423h4v1h-4zM1116 424h4v1h-4zM1120 425h1v1h-1z"/><path fill="#0000cd" d="M401 151h1v1h-1zM400 152h1v1h-1zM402 152h1v1h-1zM399 153h1v2h-1zM403 153h1v2h-1zM398 155h1v1h-1zM404 155h1v1h-1zM397 156h1v1h-1zM405 156h1v1h-1zM396 157h1v1h-1zM406 157h1v1h-1zM395 158h1v2h-1zM407 158h1v2h-1zM394 160h1v1h-1zM408 160h1v1h-1zM393 161h1v1h-1zM409 161h1v1h-1zM392 162h1v1h-1zM410 162h1v1h-1zM391 163h1v2h-1zM411 163h1v1h-1zM412 164h1v1h-1zM390 165h1v1h-1zM413 165h1v2h-1zM389 166h1v1h-1zM388 167h1v1h-1zM414 167h1v1h-1zM387 168h1v2h-1zM415 168h1v1h-1zM416 169h1v1h-1zM386 170h1v1h-1zM417 170h1v2h-1zM385 171h1v1h-1zM384 172h1v1h-1zM418 172h1v3h-1zM383 173h1v1h-1zM382 174h1v1h-1zM381 175h1v2h-1zM419 175h1v3h-1zM380 177h1v1h-1zM379 178h1v1h-1zM420 178h1v3h-1zM378 179h1v1h-1zM377 180h1v2h-1zM421 181h1v2h-1zM376 182h1v4h-1zM422 183h1v3h-1zM375 186h1v4h-1zM423 186h1v3h-1zM424 189h1v3h-1zM374 190h1v4h-1zM544 190h3v1h-3zM542 191h2v1h-2zM547 191h3v1h-3zM425 192h1v3h-1zM539 192h3v1h-3zM550 192h2v1h-2zM537 193h2v1h-2zM552 193h2v1h-2zM373 194h1v4h-1zM536 194h1v1h-1zM554 194h1v1h-1zM426 195h1v3h-1zM534 195h2v1h-2zM555 195h1v2h-1zM533 196h1v1h-1zM532 197h1v1h-1zM556 197h1v1h-1zM372 198h1v4h-1zM427 198h1v3h-1zM530 198h2v1h-2zM557 198h1v1h-1zM529 199h1v2h-1zM558 199h1v1h-1zM559 200h1v2h-1zM428 201h1v3h-1zM528 201h1v3h-1zM371 202h1v4h-1zM560 202h1v1h-1zM561 203h1v2h-1zM429 204h1v3h-1zM527 204h1v2h-1zM562 205h1v3h-1zM370 206h1v4h-1zM526 206h1v3h-1zM430 207h1v3h-1zM563 208h1v3h-1zM525 209h1v3h-1zM369 210h1v2h-1zM431 210h1v3h-1zM313 211h1v2h-1zM564 211h1v3h-1zM312 212h1v1h-1zM368 212h1v2h-1zM524 212h1v3h-1zM311 213h1v2h-1zM314 213h1v2h-1zM432 213h1v3h-1zM367 214h1v2h-1zM565 214h1v2h-1zM310 215h1v1h-1zM315 215h1v2h-1zM523 215h1v2h-1zM309 216h1v1h-1zM366 216h1v2h-1zM433 216h1v2h-1zM566 216h1v3h-1zM308 217h1v1h-1zM316 217h1v2h-1zM522 217h1v3h-1zM307 218h1v2h-1zM365 218h1v2h-1zM434 218h1v2h-1zM317 219h1v2h-1zM567 219h1v3h-1zM306 220h1v1h-1zM364 220h1v2h-1zM435 220h1v2h-1zM521 220h1v2h-1zM305 221h1v1h-1zM318 221h1v2h-1zM304 222h1v2h-1zM329 222h2v1h-2zM363 222h1v2h-1zM436 222h1v2h-1zM520 222h1v2h-1zM568 222h1v3h-1zM319 223h1v2h-1zM327 223h2v1h-2zM331 223h2v1h-2zM303 224h1v2h-1zM326 224h1v1h-1zM333 224h2v1h-2zM362 224h1v2h-1zM437 224h1v2h-1zM519 224h1v1h-1zM320 225h1v2h-1zM324 225h2v1h-2zM335 225h2v1h-2zM353 225h5v1h-5zM518 225h1v2h-1zM569 225h1v3h-1zM302 226h1v2h-1zM322 226h2v1h-2zM337 226h1v1h-1zM352 226h1v1h-1zM358 226h4v1h-4zM438 226h1v2h-1zM321 227h1v1h-1zM338 227h2v1h-2zM351 227h1v1h-1zM517 227h1v1h-1zM301 228h1v1h-1zM340 228h1v1h-1zM350 228h1v1h-1zM439 228h1v2h-1zM516 228h1v2h-1zM570 228h1v2h-1zM300 229h1v2h-1zM341 229h1v1h-1zM348 229h2v1h-2zM342 230h2v1h-2zM347 230h1v1h-1zM440 230h1v2h-1zM515 230h1v1h-1zM571 230h1v3h-1zM299 231h1v2h-1zM344 231h1v1h-1zM346 231h1v1h-1zM514 231h1v2h-1zM345 232h1v1h-1zM441 232h1v1h-1zM298 233h1v2h-1zM442 233h1v2h-1zM513 233h1v1h-1zM572 233h1v3h-1zM512 234h1v2h-1zM297 235h1v1h-1zM443 235h1v2h-1zM296 236h1v2h-1zM511 236h1v2h-1zM573 236h1v2h-1zM444 237h1v2h-1zM295 238h1v1h-1zM510 238h1v2h-1zM574 238h1v3h-1zM294 239h1v1h-1zM445 239h1v2h-1zM293 240h1v2h-1zM509 240h1v2h-1zM446 241h1v2h-1zM575 241h1v3h-1zM292 242h1v1h-1zM508 242h1v2h-1zM291 243h1v1h-1zM447 243h1v2h-1zM281 244h3v1h-3zM290 244h1v2h-1zM507 244h1v2h-1zM576 244h1v2h-1zM280 245h1v1h-1zM284 245h4v1h-4zM448 245h1v2h-1zM278 246h2v1h-2zM288 246h2v1h-2zM506 246h1v2h-1zM577 246h1v3h-1zM277 247h1v1h-1zM449 247h1v2h-1zM41 248h9v1h-9zM265 248h3v1h-3zM276 248h1v1h-1zM505 248h1v2h-1zM40 249h1v2h-1zM50 249h1v2h-1zM264 249h1v1h-1zM268 249h4v1h-4zM274 249h2v1h-2zM450 249h1v2h-1zM578 249h1v2h-1zM263 250h1v2h-1zM272 250h2v1h-2zM504 250h1v2h-1zM39 251h1v2h-1zM51 251h1v1h-1zM451 251h1v2h-1zM579 251h1v3h-1zM52 252h1v2h-1zM262 252h1v1h-1zM503 252h1v1h-1zM38 253h1v2h-1zM261 253h1v1h-1zM452 253h1v2h-1zM502 253h1v1h-1zM53 254h1v1h-1zM260 254h1v1h-1zM501 254h1v2h-1zM580 254h1v2h-1zM37 255h1v1h-1zM54 255h1v2h-1zM259 255h1v2h-1zM453 255h1v2h-1zM36 256h1v2h-1zM500 256h1v1h-1zM581 256h1v3h-1zM55 257h1v1h-1zM258 257h1v1h-1zM454 257h1v2h-1zM499 257h1v1h-1zM35 258h1v2h-1zM56 258h1v2h-1zM257 258h1v1h-1zM498 258h1v2h-1zM256 259h1v2h-1zM455 259h1v2h-1zM582 259h1v2h-1zM34 260h1v2h-1zM57 260h1v1h-1zM497 260h1v1h-1zM58 261h1v2h-1zM255 261h1v2h-1zM456 261h1v2h-1zM496 261h1v1h-1zM583 261h1v3h-1zM33 262h1v1h-1zM495 262h1v2h-1zM32 263h1v2h-1zM59 263h1v1h-1zM254 263h1v2h-1zM457 263h1v1h-1zM60 264h1v1h-1zM458 264h2v1h-2zM494 264h1v1h-1zM584 264h1v2h-1zM31 265h1v2h-1zM61 265h1v2h-1zM253 265h1v2h-1zM460 265h2v1h-2zM493 265h1v1h-1zM462 266h1v1h-1zM492 266h1v1h-1zM585 266h1v3h-1zM30 267h1v2h-1zM62 267h1v1h-1zM252 267h1v2h-1zM463 267h2v1h-2zM491 267h1v2h-1zM63 268h1v1h-1zM465 268h1v1h-1zM29 269h1v2h-1zM64 269h1v2h-1zM251 269h1v2h-1zM466 269h1v2h-1zM490 269h1v1h-1zM586 269h1v4h-1zM489 270h1v1h-1zM28 271h1v2h-1zM65 271h1v2h-1zM250 271h1v2h-1zM467 271h1v2h-1zM488 271h1v1h-1zM487 272h1v1h-1zM27 273h1v2h-1zM66 273h1v3h-1zM184 273h2v1h-2zM249 273h1v1h-1zM468 273h1v1h-1zM486 273h1v1h-1zM587 273h1v3h-1zM180 274h4v1h-4zM186 274h1v1h-1zM248 274h1v1h-1zM469 274h1v2h-1zM484 274h2v1h-2zM26 275h1v2h-1zM160 275h2v1h-2zM177 275h3v1h-3zM187 275h1v2h-1zM247 275h1v2h-1zM483 275h1v1h-1zM67 276h1v3h-1zM156 276h4v1h-4zM162 276h2v1h-2zM175 276h2v1h-2zM470 276h1v1h-1zM482 276h1v1h-1zM588 276h1v3h-1zM25 277h1v2h-1zM153 277h3v1h-3zM164 277h2v1h-2zM174 277h1v1h-1zM188 277h1v1h-1zM246 277h1v1h-1zM471 277h1v2h-1zM481 277h1v1h-1zM729 277h5v1h-5zM152 278h1v2h-1zM166 278h1v1h-1zM172 278h2v1h-2zM189 278h1v1h-1zM245 278h1v1h-1zM479 278h2v1h-2zM728 278h1v1h-1zM734 278h4v1h-4zM24 279h1v2h-1zM68 279h1v3h-1zM167 279h2v1h-2zM170 279h2v1h-2zM190 279h1v1h-1zM244 279h1v1h-1zM472 279h1v2h-1zM477 279h2v1h-2zM589 279h1v4h-1zM726 279h2v1h-2zM738 279h1v1h-1zM151 280h1v2h-1zM169 280h1v1h-1zM191 280h1v2h-1zM243 280h1v2h-1zM475 280h2v1h-2zM725 280h1v1h-1zM739 280h1v1h-1zM23 281h1v3h-1zM473 281h2v1h-2zM724 281h1v1h-1zM740 281h1v1h-1zM69 282h1v4h-1zM150 282h1v2h-1zM192 282h1v1h-1zM242 282h1v1h-1zM722 282h2v1h-2zM741 282h1v2h-1zM193 283h1v2h-1zM238 283h4v1h-4zM590 283h1v3h-1zM720 283h2v1h-2zM22 284h1v2h-1zM149 284h1v1h-1zM233 284h5v1h-5zM718 284h2v1h-2zM742 284h1v1h-1zM148 285h1v2h-1zM194 285h1v2h-1zM232 285h1v2h-1zM715 285h3v1h-3zM743 285h1v1h-1zM21 286h1v3h-1zM70 286h1v3h-1zM591 286h1v3h-1zM713 286h2v1h-2zM744 286h1v1h-1zM147 287h1v2h-1zM195 287h1v3h-1zM231 287h1v1h-1zM711 287h2v1h-2zM745 287h1v1h-1zM230 288h1v1h-1zM709 288h2v1h-2zM746 288h1v2h-1zM20 289h1v2h-1zM71 289h1v3h-1zM146 289h1v2h-1zM229 289h1v2h-1zM592 289h1v4h-1zM707 289h2v1h-2zM196 290h1v2h-1zM705 290h2v1h-2zM747 290h1v2h-1zM19 291h1v3h-1zM145 291h1v1h-1zM228 291h1v1h-1zM703 291h2v1h-2zM72 292h1v3h-1zM143 292h2v1h-2zM197 292h1v3h-1zM227 292h1v1h-1zM702 292h1v1h-1zM748 292h1v1h-1zM142 293h1v1h-1zM226 293h1v2h-1zM593 293h1v3h-1zM700 293h2v1h-2zM749 293h1v2h-1zM18 294h1v2h-1zM140 294h2v1h-2zM698 294h2v1h-2zM73 295h1v2h-1zM138 295h2v1h-2zM198 295h1v2h-1zM225 295h1v1h-1zM697 295h1v1h-1zM750 295h1v1h-1zM17 296h1v3h-1zM74 296h4v1h-4zM134 296h4v1h-4zM224 296h1v2h-1zM594 296h1v2h-1zM696 296h1v2h-1zM751 296h1v2h-1zM78 297h12v1h-12zM129 297h5v1h-5zM199 297h1v3h-1zM90 298h1v2h-1zM128 298h1v1h-1zM223 298h1v1h-1zM595 298h1v2h-1zM695 298h1v2h-1zM752 298h1v2h-1zM16 299h1v2h-1zM127 299h1v1h-1zM222 299h1v2h-1zM91 300h1v2h-1zM126 300h1v1h-1zM200 300h1v2h-1zM596 300h1v2h-1zM694 300h1v2h-1zM753 300h1v2h-1zM857 300h3v1h-3zM15 301h1v3h-1zM125 301h1v1h-1zM221 301h1v1h-1zM856 301h1v1h-1zM860 301h4v1h-4zM92 302h1v2h-1zM124 302h1v1h-1zM201 302h1v2h-1zM220 302h1v2h-1zM597 302h1v2h-1zM693 302h1v1h-1zM754 302h1v4h-1zM855 302h1v1h-1zM864 302h3v1h-3zM123 303h1v1h-1zM692 303h1v2h-1zM854 303h1v1h-1zM867 303h3v1h-3zM14 304h1v3h-1zM93 304h1v1h-1zM122 304h1v1h-1zM202 304h1v1h-1zM219 304h1v1h-1zM598 304h1v2h-1zM853 304h1v1h-1zM870 304h2v1h-2zM94 305h1v2h-1zM118 305h4v1h-4zM203 305h1v1h-1zM218 305h1v2h-1zM691 305h1v2h-1zM852 305h1v1h-1zM872 305h6v1h-6zM112 306h6v1h-6zM204 306h2v1h-2zM599 306h1v2h-1zM755 306h1v3h-1zM851 306h1v1h-1zM878 306h4v1h-4zM13 307h1v2h-1zM95 307h1v2h-1zM110 307h2v1h-2zM206 307h1v1h-1zM216 307h2v1h-2zM690 307h1v2h-1zM850 307h1v1h-1zM882 307h1v1h-1zM107 308h3v1h-3zM207 308h1v1h-1zM214 308h2v1h-2zM600 308h1v2h-1zM849 308h1v2h-1zM883 308h1v2h-1zM12 309h1v3h-1zM96 309h1v2h-1zM104 309h3v1h-3zM208 309h1v1h-1zM211 309h3v1h-3zM689 309h1v1h-1zM756 309h1v3h-1zM100 310h4v1h-4zM209 310h2v1h-2zM601 310h1v2h-1zM688 310h1v2h-1zM848 310h1v2h-1zM884 310h1v1h-1zM97 311h3v1h-3zM885 311h1v1h-1zM11 312h1v3h-1zM602 312h1v3h-1zM687 312h1v1h-1zM757 312h1v4h-1zM847 312h1v2h-1zM886 312h1v1h-1zM686 313h1v1h-1zM887 313h1v2h-1zM685 314h1v2h-1zM846 314h1v3h-1zM10 315h1v2h-1zM603 315h1v3h-1zM888 315h1v1h-1zM684 316h1v1h-1zM758 316h1v3h-1zM889 316h1v2h-1zM9 317h1v2h-1zM683 317h1v1h-1zM845 317h1v2h-1zM604 318h1v3h-1zM682 318h1v2h-1zM890 318h1v2h-1zM759 319h1v3h-1zM844 319h1v3h-1zM681 320h1v1h-1zM891 320h1v2h-1zM605 321h1v3h-1zM680 321h1v1h-1zM679 322h1v1h-1zM760 322h1v4h-1zM843 322h1v2h-1zM892 322h1v2h-1zM678 323h1v1h-1zM606 324h1v3h-1zM676 324h2v1h-2zM842 324h1v2h-1zM893 324h1v2h-1zM675 325h1v1h-1zM674 326h1v1h-1zM761 326h1v3h-1zM841 326h1v2h-1zM894 326h1v2h-1zM607 327h1v3h-1zM673 327h1v1h-1zM672 328h1v1h-1zM840 328h1v2h-1zM895 328h1v2h-1zM671 329h1v1h-1zM762 329h1v3h-1zM608 330h1v3h-1zM670 330h1v1h-1zM839 330h1v2h-1zM896 330h1v2h-1zM668 331h2v1h-2zM667 332h1v1h-1zM763 332h1v3h-1zM838 332h1v2h-1zM897 332h1v4h-1zM609 333h1v2h-1zM666 333h1v1h-1zM665 334h1v1h-1zM837 334h1v1h-1zM610 335h1v1h-1zM664 335h1v2h-1zM764 335h1v3h-1zM836 335h1v2h-1zM611 336h1v2h-1zM898 336h1v4h-1zM663 337h1v1h-1zM835 337h1v2h-1zM612 338h1v1h-1zM662 338h1v1h-1zM765 338h1v2h-1zM613 339h1v1h-1zM661 339h1v2h-1zM834 339h1v2h-1zM614 340h1v1h-1zM766 340h1v3h-1zM899 340h1v4h-1zM615 341h1v2h-1zM660 341h1v1h-1zM833 341h1v2h-1zM659 342h1v1h-1zM616 343h1v1h-1zM658 343h1v2h-1zM767 343h1v3h-1zM832 343h1v2h-1zM617 344h1v1h-1zM900 344h1v4h-1zM618 345h2v1h-2zM656 345h2v1h-2zM831 345h1v2h-1zM620 346h1v1h-1zM652 346h4v1h-4zM768 346h1v3h-1zM621 347h1v1h-1zM649 347h3v1h-3zM830 347h1v2h-1zM622 348h2v1h-2zM648 348h1v1h-1zM901 348h1v4h-1zM624 349h1v1h-1zM647 349h1v2h-1zM769 349h1v3h-1zM829 349h1v3h-1zM625 350h1v1h-1zM626 351h2v1h-2zM646 351h1v1h-1zM628 352h2v1h-2zM645 352h1v1h-1zM770 352h1v2h-1zM828 352h1v2h-1zM902 352h1v4h-1zM630 353h1v1h-1zM644 353h1v1h-1zM631 354h2v1h-2zM643 354h1v2h-1zM771 354h1v2h-1zM827 354h1v2h-1zM633 355h3v1h-3zM636 356h4v1h-4zM642 356h1v1h-1zM772 356h1v2h-1zM826 356h1v2h-1zM903 356h1v4h-1zM640 357h2v1h-2zM773 358h1v3h-1zM825 358h1v2h-1zM824 360h1v2h-1zM904 360h1v4h-1zM774 361h1v2h-1zM823 362h1v2h-1zM775 363h1v2h-1zM822 364h1v1h-1zM905 364h1v3h-1zM776 365h1v2h-1zM821 365h1v2h-1zM1041 365h1v1h-1zM1039 366h2v1h-2zM1042 366h1v1h-1zM777 367h1v3h-1zM820 367h1v1h-1zM906 367h1v2h-1zM1038 367h1v1h-1zM1043 367h1v1h-1zM819 368h1v2h-1zM1036 368h2v1h-2zM1044 368h2v1h-2zM907 369h1v3h-1zM1034 369h2v1h-2zM1046 369h1v1h-1zM778 370h1v2h-1zM818 370h1v2h-1zM1032 370h2v1h-2zM1047 370h1v1h-1zM1030 371h2v1h-2zM1048 371h1v1h-1zM779 372h1v2h-1zM817 372h1v2h-1zM908 372h1v3h-1zM1027 372h3v1h-3zM1049 372h2v1h-2zM1025 373h2v1h-2zM1051 373h3v1h-3zM780 374h1v2h-1zM816 374h1v2h-1zM1024 374h1v2h-1zM1054 374h2v1h-2zM909 375h1v2h-1zM1056 375h2v1h-2zM781 376h1v3h-1zM815 376h1v2h-1zM1023 376h1v2h-1zM1058 376h2v1h-2zM910 377h1v3h-1zM1060 377h2v1h-2zM814 378h1v3h-1zM1022 378h1v2h-1zM1062 378h1v1h-1zM782 379h1v2h-1zM1063 379h2v1h-2zM911 380h1v3h-1zM1021 380h1v1h-1zM1065 380h1v1h-1zM783 381h1v2h-1zM813 381h1v2h-1zM1020 381h1v2h-1zM1066 381h1v2h-1zM784 383h1v2h-1zM812 383h1v3h-1zM912 383h1v2h-1zM1019 383h1v2h-1zM1067 383h1v2h-1zM785 385h1v2h-1zM913 385h1v2h-1zM1018 385h1v2h-1zM1068 385h1v2h-1zM811 386h1v2h-1zM786 387h1v1h-1zM914 387h1v2h-1zM1017 387h1v1h-1zM1069 387h1v1h-1zM787 388h1v1h-1zM810 388h1v2h-1zM1016 388h1v2h-1zM1070 388h1v2h-1zM788 389h2v1h-2zM915 389h1v1h-1zM790 390h1v1h-1zM800 390h6v1h-6zM809 390h1v2h-1zM916 390h1v2h-1zM1015 390h1v2h-1zM1071 390h1v2h-1zM791 391h1v1h-1zM798 391h2v1h-2zM806 391h3v1h-3zM792 392h1v1h-1zM795 392h3v1h-3zM917 392h1v1h-1zM1014 392h1v1h-1zM1072 392h1v2h-1zM793 393h2v1h-2zM918 393h1v2h-1zM1013 393h1v2h-1zM1073 394h1v2h-1zM919 395h1v1h-1zM1012 395h1v1h-1zM920 396h1v2h-1zM1011 396h1v2h-1zM1074 396h1v2h-1zM921 398h1v1h-1zM1010 398h1v2h-1zM1075 398h1v3h-1zM922 399h1v2h-1zM1009 400h1v1h-1zM923 401h1v2h-1zM1008 401h1v2h-1zM1076 401h1v3h-1zM924 403h1v2h-1zM1007 403h1v1h-1zM1006 404h1v2h-1zM1077 404h1v2h-1zM925 405h1v1h-1zM926 406h1v2h-1zM1005 406h1v1h-1zM1078 406h1v3h-1zM1004 407h1v2h-1zM927 408h1v2h-1zM1003 409h1v1h-1zM1079 409h1v3h-1zM928 410h1v2h-1zM1002 410h1v2h-1zM929 412h1v2h-1zM1000 412h2v1h-2zM1080 412h1v2h-1zM998 413h2v1h-2zM930 414h1v2h-1zM995 414h3v1h-3zM1081 414h1v3h-1zM993 415h2v1h-2zM931 416h1v2h-1zM992 416h1v1h-1zM991 417h1v2h-1zM1082 417h1v3h-1zM932 418h1v2h-1zM990 419h1v1h-1zM933 420h1v3h-1zM989 420h1v1h-1zM1083 420h1v2h-1zM988 421h1v1h-1zM987 422h1v2h-1zM1084 422h1v3h-1zM934 423h1v2h-1zM986 424h1v1h-1zM935 425h1v2h-1zM985 425h1v1h-1zM1085 425h1v3h-1zM984 426h1v1h-1zM936 427h1v2h-1zM983 427h1v2h-1zM1086 428h1v3h-1zM937 429h1v2h-1zM982 429h1v1h-1zM938 430h1v1h-1zM981 430h1v1h-1zM939 431h2v1h-2zM980 431h1v1h-1zM1087 431h1v2h-1zM941 432h2v1h-2zM979 432h1v2h-1zM943 433h2v1h-2zM1088 433h1v3h-1zM945 434h2v1h-2zM978 434h1v1h-1zM947 435h2v1h-2zM977 435h1v1h-1zM949 436h2v1h-2zM975 436h2v1h-2zM1089 436h1v3h-1zM951 437h2v1h-2zM974 437h1v1h-1zM953 438h2v1h-2zM972 438h2v1h-2zM955 439h3v1h-3zM970 439h2v1h-2zM1090 439h1v3h-1zM958 440h2v1h-2zM966 440h4v1h-4zM960 441h6v1h-6zM1091 442h1v3h-1zM1092 445h1v3h-1zM1093 448h1v4h-1zM1094 452h1v3h-1zM1095 455h1v3h-1zM1096 458h1v3h-1zM1097 461h1v2h-1zM1098 463h1v2h-1zM1099 465h1v1h-1zM1100 466h1v1h-1zM1101 467h1v2h-1zM1102 469h1v1h-1zM1103 470h1v1h-1zM1104 471h1v2h-1zM1105 473h1v1h-1zM1106 474h1v1h-1zM1107 475h1v2h-1zM1108 477h1v1h-1zM1109 478h1v1h-1zM1110 479h1v1h-1zM1111 480h1v2h-1zM1112 482h1v1h-1zM1113 483h1v1h-1zM1114 484h1v1h-1zM1115 485h1v2h-1zM1116 487h1v1h-1zM1117 488h1v1h-1zM1118 489h1v1h-1zM1119 490h1v2h-1zM1120 492h1v1h-1z"/></g><rect x="847" y="390" width="397" height="5" fill="#fc3a3a"/><rect x="716" y="466" width="533" height="5" fill="#99cc00"/><path fill="#c0c0c0" d="M1135 33h9v1h-9zM1136 34h7v1h-7zM1137 35h5v1h-5zM1138 36h3v1h-3zM1139 37h1v1h-1z"/><path fill="#c0c0c0" d="M9 617h1v41h-1zM17 617h1v29h-1zM25 617h1v27h-1zM33 617h1v24h-1zM41 617h1v20h-1zM49 617h1v24h-1zM57 617h1v26h-1zM65 617h1v27h-1zM73 617h1v32h-1zM81 617h1v28h-1zM89 617h1v22h-1zM97 617h1v25h-1zM105 617h1v25h-1zM113 617h1v23h-1zM121 617h1v22h-1zM129 617h1v20h-1zM137 617h1v16h-1zM145 617h1v8h-1zM153 617h1v4h-1zM161 617h1v5h-1zM169 617h1v9h-1zM177 617h1v8h-1zM185 617h1v7h-1zM193 617h1v12h-1zM201 617h1v16h-1zM209 617h1v15h-1zM217 617h1v11h-1zM225 617h1v6h-1zM233 614h1v4h-1zM241 615h1v3h-1zM249 615h1v3h-1zM257 612h1v6h-1zM265 609h1v9h-1zM273 612h1v6h-1zM281 607h1v11h-1zM289 602h1v16h-1zM297 599h1v19h-1zM305 595h1v23h-1zM313 591h1v27h-1zM321 604h1v14h-1zM329 606h1v12h-1zM337 607h1v11h-1zM345 607h1v11h-1zM353 601h1v17h-1zM361 597h1v21h-1zM369 585h1v33h-1zM377 581h1v37h-1zM385 583h1v35h-1zM393 585h1v33h-1zM401 585h1v33h-1zM409 592h1v26h-1zM417 599h1v19h-1zM425 605h1v13h-1zM433 613h1v5h-1zM441 617h1v1h-1zM449 617h1v6h-1zM457 617h1v10h-1zM465 617h1v10h-1zM473 617h1v18h-1zM481 617h1v14h-1zM489 617h1v11h-1zM497 617h1v6h-1zM505 617h1v2h-1zM513 612h1v6h-1zM521 610h1v8h-1zM529 606h1v12h-1zM537 605h1v13h-1zM545 605h1v13h-1zM553 609h1v9h-1zM561 616h1v2h-1zM569 617h1v6h-1zM577 617h1v14h-1zM585 617h1v19h-1zM593 617h1v28h-1zM601 617h1v30h-1zM609 617h1v37h-1zM617 617h1v39h-1zM625 617h1v41h-1zM633 617h1v41h-1zM641 617h1v40h-1zM649 617h1v35h-1zM657 617h1v31h-1zM665 617h1v27h-1zM673 617h1v25h-1zM681 617h1v22h-1zM689 617h1v17h-1zM697 617h1v11h-1zM705 617h1v7h-1zM713 617h1v4h-1zM721 617h1v3h-1zM729 617h1v1h-1zM737 617h1v3h-1zM745 617h1v8h-1zM753 617h1v11h-1zM761 617h1v24h-1zM769 617h1v30h-1zM777 617h1v35h-1zM785 617h1v36h-1zM793 617h1v34h-1zM801 617h1v28h-1zM809 617h1v25h-1zM817 617h1v21h-1zM825 617h1v17h-1zM833 617h1v13h-1zM841 617h1v7h-1zM849 614h1v4h-1zM857 610h1v8h-1zM865 615h1v3h-1zM873 617h1v1h-1zM881 617h1v2h-1zM889 617h1v7h-1zM897 617h1v13h-1zM905 617h1v19h-1zM913 617h1v26h-1zM921 617h1v30h-1zM929 617h1v35h-1zM937 617h1v38h-1zM945 617h1v36h-1zM953 617h1v36h-1zM961 617h1v37h-1zM969 617h1v36h-1zM977 617h1v32h-1zM985 617h1v27h-1zM993 617h1v22h-1zM1001 617h1v20h-1zM1009 617h1v14h-1zM1017 617h1v8h-1zM1025 617h1v4h-1zM1033 617h1v2h-1zM1041 617h1v1h-1zM1049 617h1v5h-1zM1057 617h1v7h-1zM1065 617h1v7h-1zM1073 617h1v11h-1zM1081 617h1v20h-1zM1089 617h1v29h-1zM1097 617h1v34h-1zM1105 617h1v38h-1zM1113 617h1v37h-1zM1121 617h1v36h-1z"/><path fill="#ff0000" d="M411 589h3v1h-3zM417 589h3v1h-3zM423 589h3v1h-3zM405 590h3v1h-3zM429 590h3v1h-3zM400 591h2v1h-2zM399 592h1v1h-1zM435 592h2v1h-2zM393 593h3v1h-3zM437 593h1v1h-1zM387 595h3v1h-3zM441 595h2v1h-2zM382 596h2v1h-2zM443 596h1v1h-1zM375 597h3v1h-3zM381 597h1v1h-1zM369 598h3v1h-3zM447 598h2v1h-2zM364 599h2v1h-2zM449 599h1v1h-1zM351 600h3v1h-3zM357 600h3v1h-3zM363 600h1v1h-1zM345 601h3v1h-3zM453 601h1v1h-1zM327 602h3v1h-3zM333 602h3v1h-3zM339 602h3v1h-3zM454 602h1v1h-1zM321 603h3v1h-3zM455 603h1v1h-1zM315 604h3v1h-3zM309 605h3v1h-3zM459 605h1v1h-1zM304 606h2v1h-2zM460 606h2v1h-2zM303 607h1v1h-1zM297 608h3v1h-3zM465 609h1v1h-1zM291 610h3v1h-3zM466 610h2v1h-2zM561 611h3v1h-3zM567 611h3v1h-3zM286 612h2v1h-2zM556 612h2v1h-2zM573 612h3v1h-3zM285 613h1v1h-1zM471 613h1v1h-1zM555 613h1v1h-1zM579 613h1v1h-1zM280 614h2v1h-2zM472 614h1v1h-1zM549 614h3v1h-3zM580 614h2v1h-2zM279 615h1v1h-1zM473 615h1v1h-1zM544 615h2v1h-2zM585 615h2v1h-2zM275 616h1v1h-1zM543 616h1v1h-1zM587 616h1v1h-1zM273 617h2v1h-2zM477 617h2v1h-2zM539 617h1v1h-1zM591 617h1v1h-1zM268 618h2v1h-2zM479 618h1v1h-1zM537 618h2v1h-2zM592 618h2v1h-2zM267 619h1v1h-1zM262 620h2v1h-2zM483 620h2v1h-2zM531 620h3v1h-3zM897 620h3v1h-3zM261 621h1v1h-1zM485 621h1v1h-1zM597 621h1v1h-1zM886 621h2v1h-2zM891 621h3v1h-3zM903 621h3v1h-3zM909 621h1v1h-1zM255 622h3v1h-3zM525 622h3v1h-3zM598 622h2v1h-2zM880 622h2v1h-2zM885 622h1v1h-1zM910 622h2v1h-2zM249 623h3v1h-3zM489 623h3v1h-3zM520 623h2v1h-2zM879 623h1v1h-1zM915 623h1v1h-1zM1071 623h3v1h-3zM1077 623h1v1h-1zM243 624h3v1h-3zM495 624h1v1h-1zM519 624h1v1h-1zM753 624h3v1h-3zM875 624h1v1h-1zM916 624h2v1h-2zM1065 624h3v1h-3zM1078 624h2v1h-2zM1083 624h1v1h-1zM237 625h3v1h-3zM496 625h2v1h-2zM501 625h1v1h-1zM513 625h3v1h-3zM603 625h1v1h-1zM747 625h3v1h-3zM759 625h3v1h-3zM873 625h2v1h-2zM1060 625h2v1h-2zM1084 625h2v1h-2zM207 626h3v1h-3zM213 626h1v1h-1zM231 626h3v1h-3zM502 626h2v1h-2zM507 626h3v1h-3zM604 626h2v1h-2zM741 626h3v1h-3zM765 626h3v1h-3zM1059 626h1v1h-1zM1089 626h2v1h-2zM190 627h2v1h-2zM195 627h3v1h-3zM201 627h3v1h-3zM214 627h2v1h-2zM219 627h3v1h-3zM225 627h3v1h-3zM736 627h2v1h-2zM867 627h3v1h-3zM921 627h2v1h-2zM1053 627h3v1h-3zM1091 627h1v1h-1zM184 628h2v1h-2zM189 628h1v1h-1zM735 628h1v1h-1zM771 628h3v1h-3zM923 628h1v1h-1zM1048 628h2v1h-2zM1095 628h1v1h-1zM183 629h1v1h-1zM609 629h1v1h-1zM731 629h1v1h-1zM863 629h1v1h-1zM1047 629h1v1h-1zM1096 629h2v1h-2zM177 630h3v1h-3zM610 630h2v1h-2zM729 630h2v1h-2zM777 630h2v1h-2zM861 630h2v1h-2zM927 630h2v1h-2zM1043 630h1v1h-1zM172 631h2v1h-2zM779 631h1v1h-1zM929 631h1v1h-1zM1041 631h2v1h-2zM1101 631h2v1h-2zM166 632h2v1h-2zM171 632h1v1h-1zM723 632h3v1h-3zM857 632h1v1h-1zM1103 632h1v1h-1zM160 633h2v1h-2zM165 633h1v1h-1zM615 633h1v1h-1zM783 633h2v1h-2zM855 633h2v1h-2zM933 633h1v1h-1zM1037 633h1v1h-1zM159 634h1v1h-1zM616 634h1v1h-1zM719 634h1v1h-1zM785 634h1v1h-1zM934 634h1v1h-1zM1035 634h2v1h-2zM1107 634h1v1h-1zM153 635h3v1h-3zM617 635h1v1h-1zM717 635h2v1h-2zM789 635h1v1h-1zM935 635h1v1h-1zM1108 635h2v1h-2zM790 636h2v1h-2zM850 636h2v1h-2zM1031 636h1v1h-1zM149 637h1v1h-1zM713 637h1v1h-1zM849 637h1v1h-1zM939 637h2v1h-2zM1029 637h2v1h-2zM147 638h2v1h-2zM621 638h1v1h-1zM711 638h2v1h-2zM795 638h3v1h-3zM941 638h1v1h-1zM1113 638h2v1h-2zM622 639h2v1h-2zM845 639h1v1h-1zM1024 639h2v1h-2zM1115 639h1v1h-1zM141 640h3v1h-3zM707 640h1v1h-1zM801 640h2v1h-2zM843 640h2v1h-2zM945 640h2v1h-2zM1023 640h1v1h-1zM1119 640h1v1h-1zM135 641h3v1h-3zM705 641h2v1h-2zM803 641h1v1h-1zM947 641h1v1h-1zM1019 641h1v1h-1zM1120 641h1v1h-1zM87 642h3v1h-3zM93 642h3v1h-3zM99 642h3v1h-3zM105 642h3v1h-3zM118 642h2v1h-2zM123 642h3v1h-3zM129 642h3v1h-3zM627 642h2v1h-2zM807 642h1v1h-1zM838 642h2v1h-2zM951 642h1v1h-1zM1017 642h2v1h-2zM81 643h3v1h-3zM111 643h3v1h-3zM117 643h1v1h-1zM629 643h1v1h-1zM701 643h1v1h-1zM808 643h2v1h-2zM813 643h1v1h-1zM837 643h1v1h-1zM952 643h2v1h-2zM75 644h3v1h-3zM699 644h2v1h-2zM814 644h2v1h-2zM819 644h3v1h-3zM831 644h3v1h-3zM1013 644h1v1h-1zM69 645h3v1h-3zM633 645h2v1h-2zM825 645h3v1h-3zM957 645h2v1h-2zM1011 645h2v1h-2zM65 646h1v1h-1zM635 646h1v1h-1zM694 646h2v1h-2zM959 646h1v1h-1zM63 647h2v1h-2zM693 647h1v1h-1zM1006 647h2v1h-2zM639 648h2v1h-2zM688 648h2v1h-2zM963 648h3v1h-3zM1005 648h1v1h-1zM59 649h1v1h-1zM641 649h1v1h-1zM687 649h1v1h-1zM999 649h3v1h-3zM57 650h2v1h-2zM645 650h3v1h-3zM681 650h3v1h-3zM969 650h3v1h-3zM993 650h3v1h-3zM651 651h1v1h-1zM676 651h2v1h-2zM975 651h3v1h-3zM981 651h3v1h-3zM987 651h3v1h-3zM53 652h1v1h-1zM652 652h2v1h-2zM670 652h2v1h-2zM675 652h1v1h-1zM51 653h2v1h-2zM657 653h3v1h-3zM663 653h3v1h-3zM669 653h1v1h-1zM46 656h2v1h-2zM45 657h1v1h-1zM41 660h1v1h-1zM39 661h2v1h-2zM35 663h1v1h-1zM33 664h2v1h-2zM29 666h1v1h-1zM27 667h2v1h-2zM22 669h2v1h-2zM21 670h1v1h-1zM16 671h2v1h-2zM15 672h1v1h-1zM9 673h3v1h-3z"/><path fill="#c0c0c0" d="M10 720h3v1h-3zM16 720h3v1h-3zM22 720h3v1h-3zM28 720h3v1h-3zM34 720h3v1h-3zM40 720h3v1h-3zM46 720h3v1h-3zM52 720h3v1h-3zM58 720h3v1h-3zM64 720h3v1h-3zM70 720h3v1h-3zM76 720h3v1h-3zM82 720h3v1h-3zM88 720h3v1h-3zM94 720h3v1h-3zM100 720h3v1h-3zM106 720h3v1h-3zM112 720h3v1h-3zM118 720h3v1h-3zM124 720h3v1h-3zM130 720h3v1h-3zM136 720h3v1h-3zM142 720h3v1h-3zM148 720h3v1h-3zM154 720h3v1h-3zM160 720h3v1h-3zM166 720h3v1h-3zM172 720h3v1h-3zM178 720h3v1h-3zM184 720h3v1h-3zM190 720h3v1h-3zM196 720h3v1h-3zM202 720h3v1h-3zM208 720h3v1h-3zM214 720h3v1h-3zM220 720h3v1h-3zM226 720h3v1h-3zM232 720h3v1h-3zM238 720h3v1h-3zM244 720h3v1h-3zM250 720h3v1h-3zM256 720h3v1h-3zM262 720h3v1h-3zM268 720h3v1h-3zM274 720h3v1h-3zM280 720h3v1h-3zM286 720h3v1h-3zM292 720h3v1h-3zM298 720h3v1h-3zM304 720h3v1h-3zM310 720h3v1h-3zM316 720h3v1h-3zM322 720h3v1h-3zM328 720h3v1h-3zM334 720h3v1h-3zM340 720h3v1h-3zM346 720h3v1h-3zM352 720h3v1h-3zM358 720h3v1h-3zM364 720h3v1h-3zM370 720h3v1h-3zM376 720h3v1h-3zM382 720h3v1h-3zM388 720h3v1h-3zM394 720h3v1h-3zM400 720h3v1h-3zM406 720h3v1h-3zM412 720h3v1h-3zM418 720h3v1h-3zM424 720h3v1h-3zM430 720h3v1h-3zM436 720h3v1h-3zM442 720h3v1h-3zM448 720h3v1h-3zM454 720h3v1h-3zM460 720h3v1h-3zM466 720h3v1h-3zM472 720h3v1h-3zM478 720h3v1h-3zM484 720h3v1h-3zM490 720h3v1h-3zM496 720h3v1h-3zM502 720h3v1h-3zM508 720h3v1h-3zM514 720h3v1h-3zM520 720h3v1h-3zM526 720h3v1h-3zM532 720h3v1h-3zM538 720h3v1h-3zM544 720h3v1h-3zM550 720h3v1h-3zM556 720h3v1h-3zM562 720h3v1h-3zM568 720h3v1h-3zM574 720h3v1h-3zM580 720h3v1h-3zM586 720h3v1h-3zM592 720h3v1h-3zM598 720h3v1h-3zM604 720h3v1h-3zM610 720h3v1h-3zM616 720h3v1h-3zM622 720h3v1h-3zM628 720h3v1h-3zM634 720h3v1h-3zM640 720h3v1h-3zM646 720h3v1h-3zM652 720h3v1h-3zM658 720h3v1h-3zM664 720h3v1h-3zM670 720h3v1h-3zM676 720h3v1h-3zM682 720h3v1h-3zM688 720h3v1h-3zM694 720h3v1h-3zM700 720h3v1h-3zM706 720h3v1h-3zM712 720h3v1h-3zM718 720h3v1h-3zM724 720h3v1h-3zM730 720h3v1h-3zM736 720h3v1h-3zM742 720h3v1h-3zM748 720h3v1h-3zM754 720h3v1h-3zM760 720h3v1h-3zM766 720h3v1h-3zM772 720h3v1h-3zM778 720h3v1h-3zM784 720h3v1h-3zM790 720h3v1h-3zM796 720h3v1h-3zM802 720h3v1h-3zM808 720h3v1h-3zM814 720h3v1h-3zM820 720h3v1h-3zM826 720h3v1h-3zM832 720h3v1h-3zM838 720h3v1h-3zM844 720h3v1h-3zM850 720h3v1h-3zM856 720h3v1h-3zM862 720h3v1h-3zM868 720h3v1h-3zM874 720h3v1h-3zM880 720h3v1h-3zM886 720h3v1h-3zM892 720h3v1h-3zM898 720h3v1h-3zM904 720h3v1h-3zM910 720h3v1h-3zM916 720h3v1h-3zM922 720h3v1h-3zM928 720h3v1h-3zM934 720h3v1h-3zM940 720h3v1h-3zM946 720h3v1h-3zM952 720h3v1h-3zM958 720h3v1h-3zM964 720h3v1h-3zM970 720h3v1h-3zM976 720h3v1h-3zM982 720h3v1h-3zM988 720h3v1h-3zM994 720h3v1h-3zM1000 720h3v1h-3zM1006 720h3v1h-3zM1012 720h3v1h-3zM1018 720h3v1h-3zM1024 720h3v1h-3zM1030 720h3v1h-3zM1036 720h3v1h-3zM1042 720h3v1h-3zM1048 720h3v1h-3zM1054 720h3v1h-3zM1060 720h3v1h-3zM1066 720h3v1h-3zM1072 720h3v1h-3zM1078 720h3v1h-3zM1084 720h3v1h-3zM1090 720h3v1h-3zM1096 720h3v1h-3zM1102 720h3v1h-3zM1108 720h3v1h-3zM1114 720h3v1h-3zM1120 720h3v1h-3zM1126 720h3v1h-3zM1132 720h3v1h-3zM1138 720h3v1h-3zM1144 720h3v1h-3zM1150 720h3v1h-3zM1156 720h3v1h-3zM1162 720h3v1h-3zM1168 720h3v1h-3zM1174 720h3v1h-3zM1180 720h3v1h-3zM1186 720h3v1h-3zM1192 720h3v1h-3zM1198 720h3v1h-3zM1204 720h3v1h-3zM1210 720h3v1h-3zM1216 720h3v1h-3zM1222 720h3v1h-3zM1228 720h3v1h-3zM1234 720h3v1h-3zM1240 720h3v1h-3zM1246 720h3v1h-3zM1252 720h3v1h-3zM1258 720h3v1h-3zM1264 720h3v1h-3zM1270 720h3v1h-3zM1276 720h3v1h-3zM1282 720h3v1h-3zM1288 720h3v1h-3zM1294 720h3v1h-3zM1300 720h3v1h-3zM1306 720h3v1h-3zM1312 720h3v1h-3zM1318 720h3v1h-3zM1324 720h3v1h-3zM1330 720h3v1h-3zM1336 720h3v1h-3zM1342 720h3v1h-3zM1348 720h3v1h-3zM1354 720h3v1h-3zM1360 720h3v1h-3zM1366 720h3v1h-3zM1372 720h3v1h-3zM1378 720h3v1h-3zM1384 720h3v1h-3zM1390 720h3v1h-3zM1396 720h3v1h-3zM1402 720h3v1h-3zM1408 720h3v1h-3zM1414 720h3v1h-3zM1420 720h3v1h-3z"/><path fill="#c0c0c0" d="M10 771h3v1h-3zM16 771h3v1h-3zM22 771h3v1h-3zM28 771h3v1h-3zM34 771h3v1h-3zM40 771h3v1h-3zM46 771h3v1h-3zM52 771h3v1h-3zM58 771h3v1h-3zM64 771h3v1h-3zM70 771h3v1h-3zM76 771h3v1h-3zM82 771h3v1h-3zM88 771h3v1h-3zM94 771h3v1h-3zM100 771h3v1h-3zM106 771h3v1h-3zM112 771h3v1h-3zM118 771h3v1h-3zM124 771h3v1h-3zM130 771h3v1h-3zM136 771h3v1h-3zM142 771h3v1h-3zM148 771h3v1h-3zM154 771h3v1h-3zM160 771h3v1h-3zM166 771h3v1h-3zM172 771h3v1h-3zM178 771h3v1h-3zM184 771h3v1h-3zM190 771h3v1h-3zM196 771h3v1h-3zM202 771h3v1h-3zM208 771h3v1h-3zM214 771h3v1h-3zM220 771h3v1h-3zM226 771h3v1h-3zM232 771h3v1h-3zM238 771h3v1h-3zM244 771h3v1h-3zM250 771h3v1h-3zM256 771h3v1h-3zM262 771h3v1h-3zM268 771h3v1h-3zM274 771h3v1h-3zM280 771h3v1h-3zM286 771h3v1h-3zM292 771h3v1h-3zM298 771h3v1h-3zM304 771h3v1h-3zM310 771h3v1h-3zM316 771h3v1h-3zM322 771h3v1h-3zM328 771h3v1h-3zM334 771h3v1h-3zM340 771h3v1h-3zM346 771h3v1h-3zM352 771h3v1h-3zM358 771h3v1h-3zM364 771h3v1h-3zM370 771h3v1h-3zM376 771h3v1h-3zM382 771h3v1h-3zM388 771h3v1h-3zM394 771h3v1h-3zM400 771h3v1h-3zM406 771h3v1h-3zM412 771h3v1h-3zM418 771h3v1h-3zM424 771h3v1h-3zM430 771h3v1h-3zM436 771h3v1h-3zM442 771h3v1h-3zM448 771h3v1h-3zM454 771h3v1h-3zM460 771h3v1h-3zM466 771h3v1h-3zM472 771h3v1h-3zM478 771h3v1h-3zM484 771h3v1h-3zM490 771h3v1h-3zM496 771h3v1h-3zM502 771h3v1h-3zM508 771h3v1h-3zM514 771h3v1h-3zM520 771h3v1h-3zM526 771h3v1h-3zM532 771h3v1h-3zM538 771h3v1h-3zM544 771h3v1h-3zM550 771h3v1h-3zM556 771h3v1h-3zM562 771h3v1h-3zM568 771h3v1h-3zM574 771h3v1h-3zM580 771h3v1h-3zM586 771h3v1h-3zM592 771h3v1h-3zM598 771h3v1h-3zM604 771h3v1h-3zM610 771h3v1h-3zM616 771h3v1h-3zM622 771h3v1h-3zM628 771h3v1h-3zM634 771h3v1h-3zM640 771h3v1h-3zM646 771h3v1h-3zM652 771h3v1h-3zM658 771h3v1h-3zM664 771h3v1h-3zM670 771h3v1h-3zM676 771h3v1h-3zM682 771h3v1h-3zM688 771h3v1h-3zM694 771h3v1h-3zM700 771h3v1h-3zM706 771h3v1h-3zM712 771h3v1h-3zM718 771h3v1h-3zM724 771h3v1h-3zM730 771h3v1h-3zM736 771h3v1h-3zM742 771h3v1h-3zM748 771h3v1h-3zM754 771h3v1h-3zM760 771h3v1h-3zM766 771h3v1h-3zM772 771h3v1h-3zM778 771h3v1h-3zM784 771h3v1h-3zM790 771h3v1h-3zM796 771h3v1h-3zM802 771h3v1h-3zM808 771h3v1h-3zM814 771h3v1h-3zM820 771h3v1h-3zM826 771h3v1h-3zM832 771h3v1h-3zM838 771h3v1h-3zM844 771h3v1h-3zM850 771h3v1h-3zM856 771h3v1h-3zM862 771h3v1h-3zM868 771h3v1h-3zM874 771h3v1h-3zM880 771h3v1h-3zM886 771h3v1h-3zM892 771h3v1h-3zM898 771h3v1h-3zM904 771h3v1h-3zM910 771h3v1h-3zM916 771h3v1h-3zM922 771h3v1h-3zM928 771h3v1h-3zM934 771h3v1h-3zM940 771h3v1h-3zM946 771h3v1h-3zM952 771h3v1h-3zM958 771h3v1h-3zM964 771h3v1h-3zM970 771h3v1h-3zM976 771h3v1h-3zM982 771h3v1h-3zM988 771h3v1h-3zM994 771h3v1h-3zM1000 771h3v1h-3zM1006 771h3v1h-3zM1012 771h3v1h-3zM1018 771h3v1h-3zM1024 771h3v1h-3zM1030 771h3v1h-3zM1036 771h3v1h-3zM1042 771h3v1h-3zM1048 771h3v1h-3zM1054 771h3v1h-3zM1060 771h3v1h-3zM1066 771h3v1h-3zM1072 771h3v1h-3zM1078 771h3v1h-3zM1084 771h3v1h-3zM1090 771h3v1h-3zM1096 771h3v1h-3zM1102 771h3v1h-3zM1108 771h3v1h-3zM1114 771h3v1h-3zM1120 771h3v1h-3zM1126 771h3v1h-3zM1132 771h3v1h-3zM1138 771h3v1h-3zM1144 771h3v1h-3zM1150 771h3v1h-3zM1156 771h3v1h-3zM1162 771h3v1h-3zM1168 771h3v1h-3zM1174 771h3v1h-3zM1180 771h3v1h-3zM1186 771h3v1h-3zM1192 771h3v1h-3zM1198 771h3v1h-3zM1204 771h3v1h-3zM1210 771h3v1h-3zM1216 771h3v1h-3zM1222 771h3v1h-3zM1228 771h3v1h-3zM1234 771h3v1h-3zM1240 771h3v1h-3zM1246 771h3v1h-3zM1252 771h3v1h-3zM1258 771h3v1h-3zM1264 771h3v1h-3zM1270 771h3v1h-3zM1276 771h3v1h-3zM1282 771h3v1h-3zM1288 771h3v1h-3zM1294 771h3v1h-3zM1300 771h3v1h-3zM1306 771h3v1h-3zM1312 771h3v1h-3zM1318 771h3v1h-3zM1324 771h3v1h-3zM1330 771h3v1h-3zM1336 771h3v1h-3zM1342 771h3v1h-3zM1348 771h3v1h-3zM1354 771h3v1h-3zM1360 771h3v1h-3zM1366 771h3v1h-3zM1372 771h3v1h-3zM1378 771h3v1h-3zM1384 771h3v1h-3zM1390 771h3v1h-3zM1396 771h3v1h-3zM1402 771h3v1h-3zM1408 771h3v1h-3zM1414 771h3v1h-3zM1420 771h3v1h-3z"/><path fill="#1e90ff" d="M849 728h1v1h-1zM369 729h1v1h-1zM848 729h1v2h-1zM850 729h1v2h-1zM368 730h1v1h-1zM370 730h2v1h-2zM367 731h1v1h-1zM372 731h1v1h-1zM847 731h1v1h-1zM851 731h1v1h-1zM366 732h1v1h-1zM373 732h1v1h-1zM846 732h1v1h-1zM852 732h1v1h-1zM233 733h1v1h-1zM365 733h1v2h-1zM374 733h2v1h-2zM845 733h1v2h-1zM853 733h1v2h-1zM232 734h1v1h-1zM234 734h1v2h-1zM376 734h1v1h-1zM513 734h1v1h-1zM231 735h1v1h-1zM304 735h10v1h-10zM353 735h2v1h-2zM364 735h1v1h-1zM377 735h1v1h-1zM512 735h1v1h-1zM514 735h2v1h-2zM844 735h1v1h-1zM854 735h1v1h-1zM230 736h1v1h-1zM235 736h1v1h-1zM302 736h2v1h-2zM313 736h1v1h-1zM352 736h1v1h-1zM355 736h3v1h-3zM363 736h1v1h-1zM378 736h2v1h-2zM511 736h1v1h-1zM516 736h1v1h-1zM843 736h1v1h-1zM855 736h1v1h-1zM229 737h1v2h-1zM236 737h1v2h-1zM288 737h6v1h-6zM299 737h3v1h-3zM314 737h1v2h-1zM351 737h1v1h-1zM358 737h2v1h-2zM362 737h1v1h-1zM380 737h1v1h-1zM510 737h1v1h-1zM517 737h1v1h-1zM697 737h2v1h-2zM842 737h1v2h-1zM856 737h1v2h-1zM145 738h2v1h-2zM284 738h4v1h-4zM294 738h5v1h-5zM350 738h1v1h-1zM360 738h2v1h-2zM381 738h1v1h-1zM508 738h2v1h-2zM518 738h2v1h-2zM696 738h1v1h-1zM699 738h3v1h-3zM1022 738h4v1h-4zM17 739h1v1h-1zM144 739h1v1h-1zM147 739h2v1h-2zM228 739h1v1h-1zM237 739h1v1h-1zM281 739h3v1h-3zM315 739h1v3h-1zM349 739h1v1h-1zM382 739h2v1h-2zM507 739h1v1h-1zM520 739h1v1h-1zM526 739h8v1h-8zM694 739h2v1h-2zM702 739h2v1h-2zM840 739h2v1h-2zM857 739h1v1h-1zM1014 739h8v1h-8zM1026 739h2v1h-2zM15 740h2v1h-2zM18 740h1v1h-1zM142 740h2v1h-2zM149 740h2v1h-2zM227 740h1v1h-1zM238 740h1v2h-1zM264 740h2v1h-2zM280 740h1v1h-1zM348 740h1v1h-1zM384 740h1v1h-1zM398 740h4v1h-4zM506 740h1v1h-1zM521 740h5v1h-5zM534 740h5v1h-5zM693 740h1v1h-1zM704 740h4v1h-4zM838 740h2v1h-2zM858 740h1v2h-1zM1009 740h5v1h-5zM1028 740h2v1h-2zM13 741h2v1h-2zM19 741h1v2h-1zM141 741h1v1h-1zM151 741h2v1h-2zM226 741h1v1h-1zM260 741h4v1h-4zM266 741h1v1h-1zM279 741h1v1h-1zM347 741h1v1h-1zM385 741h13v1h-13zM402 741h1v1h-1zM502 741h4v1h-4zM539 741h3v1h-3zM692 741h1v1h-1zM708 741h4v1h-4zM835 741h3v1h-3zM1008 741h1v1h-1zM1030 741h1v1h-1zM1040 741h2v1h-2zM11 742h2v1h-2zM140 742h1v1h-1zM153 742h1v1h-1zM222 742h4v1h-4zM239 742h1v1h-1zM256 742h4v1h-4zM267 742h1v1h-1zM278 742h1v1h-1zM316 742h1v2h-1zM346 742h1v1h-1zM403 742h1v1h-1zM496 742h6v1h-6zM542 742h2v1h-2zM690 742h2v1h-2zM712 742h3v1h-3zM729 742h1v1h-1zM832 742h3v1h-3zM859 742h1v1h-1zM1007 742h1v1h-1zM1031 742h2v1h-2zM1036 742h4v1h-4zM1042 742h1v2h-1zM9 743h2v1h-2zM20 743h1v1h-1zM138 743h2v1h-2zM154 743h2v1h-2zM216 743h6v1h-6zM240 743h1v2h-1zM254 743h2v1h-2zM268 743h2v1h-2zM277 743h1v1h-1zM342 743h4v1h-4zM404 743h2v1h-2zM492 743h4v1h-4zM544 743h2v1h-2zM689 743h1v1h-1zM715 743h2v1h-2zM727 743h2v1h-2zM730 743h1v1h-1zM830 743h2v1h-2zM860 743h1v2h-1zM1006 743h1v1h-1zM1033 743h3v1h-3zM21 744h1v1h-1zM88 744h2v1h-2zM137 744h1v1h-1zM156 744h1v1h-1zM214 744h2v1h-2zM251 744h3v1h-3zM270 744h1v1h-1zM276 744h1v1h-1zM317 744h1v3h-1zM336 744h6v1h-6zM406 744h1v1h-1zM481 744h11v1h-11zM546 744h2v1h-2zM687 744h2v1h-2zM717 744h2v1h-2zM725 744h2v1h-2zM731 744h1v2h-1zM801 744h2v1h-2zM827 744h3v1h-3zM992 744h3v1h-3zM1004 744h2v1h-2zM1043 744h1v2h-1zM22 745h1v1h-1zM40 745h2v1h-2zM86 745h2v1h-2zM90 745h1v1h-1zM135 745h2v1h-2zM157 745h1v1h-1zM177 745h5v1h-5zM211 745h3v1h-3zM241 745h10v1h-10zM271 745h1v1h-1zM275 745h1v1h-1zM332 745h4v1h-4zM407 745h1v1h-1zM480 745h1v2h-1zM548 745h1v1h-1zM686 745h1v1h-1zM719 745h2v1h-2zM723 745h2v1h-2zM800 745h1v1h-1zM803 745h2v1h-2zM816 745h11v1h-11zM861 745h1v1h-1zM988 745h4v1h-4zM995 745h3v1h-3zM1003 745h1v1h-1zM23 746h1v2h-1zM36 746h4v1h-4zM42 746h1v1h-1zM83 746h3v1h-3zM91 746h1v2h-1zM133 746h2v1h-2zM158 746h2v1h-2zM176 746h1v1h-1zM182 746h4v1h-4zM209 746h2v1h-2zM272 746h1v1h-1zM274 746h1v1h-1zM329 746h3v1h-3zM408 746h1v1h-1zM549 746h1v1h-1zM684 746h2v1h-2zM721 746h2v1h-2zM732 746h1v1h-1zM799 746h1v1h-1zM805 746h2v1h-2zM814 746h2v1h-2zM862 746h1v2h-1zM984 746h4v1h-4zM998 746h2v1h-2zM1002 746h1v1h-1zM1044 746h1v2h-1zM32 747h4v1h-4zM43 747h1v1h-1zM81 747h2v1h-2zM131 747h2v1h-2zM160 747h1v1h-1zM175 747h1v1h-1zM186 747h1v1h-1zM208 747h1v1h-1zM273 747h1v1h-1zM318 747h1v2h-1zM328 747h1v1h-1zM409 747h3v1h-3zM479 747h1v2h-1zM550 747h2v1h-2zM656 747h4v1h-4zM682 747h2v1h-2zM733 747h1v1h-1zM798 747h1v1h-1zM807 747h2v1h-2zM811 747h3v1h-3zM881 747h1v1h-1zM980 747h4v1h-4zM1000 747h2v1h-2zM24 748h1v1h-1zM28 748h4v1h-4zM44 748h1v1h-1zM80 748h1v1h-1zM92 748h1v1h-1zM110 748h8v1h-8zM126 748h5v1h-5zM161 748h2v1h-2zM174 748h1v1h-1zM187 748h1v1h-1zM207 748h1v1h-1zM327 748h1v1h-1zM412 748h4v1h-4zM552 748h1v1h-1zM652 748h4v1h-4zM660 748h4v1h-4zM678 748h4v1h-4zM734 748h1v1h-1zM796 748h2v1h-2zM809 748h2v1h-2zM863 748h1v1h-1zM879 748h2v1h-2zM882 748h2v1h-2zM977 748h3v1h-3zM1045 748h1v1h-1zM1064 748h2v1h-2zM25 749h3v1h-3zM45 749h1v2h-1zM79 749h1v2h-1zM93 749h1v1h-1zM105 749h5v1h-5zM118 749h8v1h-8zM163 749h2v1h-2zM172 749h2v1h-2zM188 749h1v1h-1zM206 749h1v1h-1zM319 749h1v3h-1zM326 749h1v1h-1zM416 749h6v1h-6zM465 749h1v1h-1zM478 749h1v2h-1zM553 749h1v1h-1zM649 749h3v1h-3zM664 749h14v1h-14zM735 749h1v2h-1zM795 749h1v1h-1zM864 749h1v2h-1zM877 749h2v1h-2zM884 749h1v1h-1zM976 749h1v1h-1zM1046 749h1v2h-1zM1062 749h2v1h-2zM1066 749h1v1h-1zM94 750h1v1h-1zM103 750h2v1h-2zM165 750h2v1h-2zM171 750h1v1h-1zM189 750h1v1h-1zM205 750h1v1h-1zM325 750h1v2h-1zM422 750h5v1h-5zM463 750h2v1h-2zM466 750h1v1h-1zM554 750h2v1h-2zM647 750h2v1h-2zM794 750h1v1h-1zM875 750h2v1h-2zM885 750h1v1h-1zM975 750h1v1h-1zM1059 750h3v1h-3zM1067 750h1v1h-1zM46 751h1v1h-1zM78 751h1v1h-1zM95 751h1v2h-1zM102 751h1v1h-1zM167 751h2v1h-2zM170 751h1v1h-1zM190 751h1v1h-1zM204 751h1v1h-1zM427 751h3v1h-3zM461 751h2v1h-2zM467 751h1v2h-1zM477 751h1v2h-1zM556 751h2v1h-2zM646 751h1v1h-1zM736 751h1v1h-1zM793 751h1v1h-1zM865 751h10v1h-10zM886 751h2v1h-2zM974 751h1v1h-1zM1047 751h1v2h-1zM1057 751h2v1h-2zM1068 751h2v1h-2zM47 752h1v1h-1zM77 752h1v1h-1zM100 752h2v1h-2zM169 752h1v1h-1zM191 752h1v1h-1zM203 752h1v1h-1zM320 752h1v2h-1zM324 752h1v1h-1zM430 752h2v1h-2zM459 752h2v1h-2zM558 752h1v1h-1zM644 752h2v1h-2zM737 752h2v1h-2zM792 752h1v1h-1zM888 752h1v1h-1zM973 752h1v2h-1zM1055 752h2v1h-2zM1070 752h1v1h-1zM48 753h1v1h-1zM54 753h13v1h-13zM76 753h1v1h-1zM96 753h1v1h-1zM98 753h2v1h-2zM192 753h1v1h-1zM202 753h1v1h-1zM323 753h1v1h-1zM432 753h27v1h-27zM468 753h1v1h-1zM476 753h1v2h-1zM559 753h2v1h-2zM642 753h2v1h-2zM739 753h2v1h-2zM790 753h2v1h-2zM889 753h2v1h-2zM945 753h2v1h-2zM1048 753h1v2h-1zM1053 753h2v1h-2zM1071 753h1v1h-1zM49 754h5v1h-5zM67 754h2v1h-2zM75 754h1v2h-1zM97 754h1v1h-1zM193 754h9v1h-9zM321 754h2v1h-2zM469 754h1v1h-1zM561 754h2v1h-2zM601 754h1v1h-1zM640 754h2v1h-2zM741 754h2v1h-2zM789 754h1v1h-1zM891 754h3v1h-3zM944 754h1v1h-1zM947 754h3v1h-3zM972 754h1v1h-1zM1051 754h2v1h-2zM1072 754h1v1h-1zM69 755h2v1h-2zM321 755h1v1h-1zM470 755h1v1h-1zM475 755h1v2h-1zM563 755h2v1h-2zM600 755h1v2h-1zM602 755h1v1h-1zM638 755h2v1h-2zM743 755h2v1h-2zM750 755h4v1h-4zM788 755h1v1h-1zM894 755h2v1h-2zM943 755h1v1h-1zM950 755h2v1h-2zM971 755h1v1h-1zM1049 755h2v1h-2zM1073 755h1v1h-1zM1113 755h8v1h-8zM71 756h2v1h-2zM74 756h1v1h-1zM471 756h1v2h-1zM565 756h2v1h-2zM603 756h1v1h-1zM635 756h3v1h-3zM745 756h5v1h-5zM753 756h1v1h-1zM786 756h2v1h-2zM896 756h3v1h-3zM942 756h1v1h-1zM952 756h6v1h-6zM970 756h1v1h-1zM1074 756h1v2h-1zM1112 756h1v1h-1zM73 757h1v1h-1zM474 757h1v2h-1zM567 757h2v1h-2zM599 757h1v1h-1zM604 757h1v1h-1zM617 757h18v1h-18zM754 757h1v2h-1zM785 757h1v1h-1zM899 757h3v1h-3zM941 757h1v2h-1zM958 757h12v1h-12zM1111 757h1v1h-1zM472 758h1v1h-1zM569 758h3v1h-3zM598 758h1v1h-1zM605 758h1v2h-1zM616 758h1v1h-1zM784 758h1v1h-1zM902 758h2v1h-2zM1075 758h1v1h-1zM1110 758h1v1h-1zM473 759h1v1h-1zM572 759h4v1h-4zM597 759h1v2h-1zM614 759h2v1h-2zM755 759h1v2h-1zM782 759h2v1h-2zM904 759h4v1h-4zM920 759h3v1h-3zM940 759h1v1h-1zM1076 759h1v1h-1zM1109 759h1v2h-1zM576 760h10v1h-10zM606 760h1v1h-1zM613 760h1v1h-1zM781 760h1v1h-1zM908 760h4v1h-4zM916 760h4v1h-4zM923 760h3v1h-3zM939 760h1v1h-1zM1077 760h1v2h-1zM586 761h2v1h-2zM596 761h1v1h-1zM607 761h1v1h-1zM612 761h1v1h-1zM756 761h1v2h-1zM769 761h3v1h-3zM780 761h1v1h-1zM912 761h4v1h-4zM926 761h2v1h-2zM938 761h1v1h-1zM1108 761h1v1h-1zM588 762h2v1h-2zM595 762h1v1h-1zM608 762h1v1h-1zM610 762h2v1h-2zM768 762h1v1h-1zM772 762h4v1h-4zM778 762h2v1h-2zM928 762h10v1h-10zM1078 762h1v1h-1zM1107 762h1v1h-1zM590 763h1v1h-1zM594 763h1v2h-1zM609 763h1v1h-1zM757 763h1v2h-1zM767 763h1v2h-1zM776 763h2v1h-2zM1079 763h1v1h-1zM1097 763h5v1h-5zM1106 763h1v1h-1zM591 764h2v1h-2zM1080 764h1v2h-1zM1095 764h2v1h-2zM1102 764h4v1h-4zM593 765h1v1h-1zM758 765h1v2h-1zM766 765h1v1h-1zM1094 765h1v1h-1zM765 766h1v1h-1zM1081 766h3v1h-3zM1092 766h2v1h-2zM759 767h1v2h-1zM764 767h1v1h-1zM1084 767h4v1h-4zM1090 767h2v1h-2zM763 768h1v2h-1zM1088 768h2v1h-2zM760 769h1v2h-1zM762 770h1v1h-1zM761 771h1v1h-1z"/><path fill="#000" d="M8 32h1417v1h-1417zM8 572h1417v1h-1417zM8 32h1v541h-1zM1424 32h1v541h-1zM8 574h1417v1h-1417zM8 678h1417v1h-1417zM8 574h1v105h-1zM1424 574h1v105h-1zM8 680h1417v1h-1417zM8 810h1417v1h-1417zM8 680h1v131h-1zM1424 680h1v131h-1zM1425 41h2v1h-2zM1425 74h2v1h-2zM1425 107h2v1h-2zM1425 140h2v1h-2zM1425 173h2v1h-2zM1425 206h2v1h-2zM1425 239h2v1h-2zM1425 272h2v1h-2zM1425 305h2v1h-2zM1425 338h2v1h-2zM1425 371h2v1h-2zM1425 404h2v1h-2zM1425 437h2v1h-2zM1425 470h2v1h-2zM1425 503h2v1h-2zM1425 536h2v1h-2zM1425 569h2v1h-2zM1425 576h2v1h-2zM1425 617h2v1h-2zM1425 677h2v1h-2zM1425 682h2v1h-2zM1425 809h2v1h-2zM9 811h1v3h-1zM73 811h1v3h-1zM137 811h1v3h-1zM201 811h1v3h-1zM265 811h1v3h-1zM329 811h1v3h-1zM393 811h1v3h-1zM457 811h1v3h-1zM521 811h1v3h-1zM585 811h1v3h-1zM649 811h1v3h-1zM713 811h1v3h-1zM777 811h1v3h-1zM841 811h1v3h-1zM905 811h1v3h-1zM969 811h1v3h-1zM1033 811h1v3h-1zM1097 811h1v3h-1z"/></svg>
<div class="t" style="left:1429.90px;top:37px;font-size:10px;transform:scaleX(0.8969);transform-origin:0 0;">1.15850</div><div class="t" style="left:1429.90px;top:70px;font-size:10px;transform:scaleX(0.8969);transform-origin:0 0;">1.15545</div><div class="t" style="left:1429.90px;top:103px;font-size:10px;transform:scaleX(0.8969);transform-origin:0 0;">1.15245</div><div class="t" style="left:1429.90px;top:136px;font-size:10px;transform:scaleX(0.8969);transform-origin:0 0;">1.14940</div><div class="t" style="left:1429.90px;top:169px;font-size:10px;transform:scaleX(0.8969);transform-origin:0 0;">1.14635</div><div class="t" style="left:1429.90px;top:202px;font-size:10px;transform:scaleX(0.8969);transform-origin:0 0;">1.14335</div><div class="t" style="left:1429.90px;top:235px;font-size:10px;transform:scaleX(0.8969);transform-origin:0 0;">1.14030</div><div class="t" style="left:1429.90px;top:268px;font-size:10px;transform:scaleX(0.8969);transform-origin:0 0;">1.13730</div><div class="t" style="left:1429.90px;top:301px;font-size:10px;transform:scaleX(0.8969);transform-origin:0 0;">1.13425</div><div class="t" style="left:1429.90px;top:334px;font-size:10px;transform:scaleX(0.8969);transform-origin:0 0;">1.13120</div><div class="t" style="left:1429.90px;top:367px;font-size:10px;transform:scaleX(0.8969);transform-origin:0 0;">1.12820</div><div class="t" style="left:1429.90px;top:400px;font-size:10px;transform:scaleX(0.8969);transform-origin:0 0;">1.12515</div><div class="t" style="left:1429.90px;top:433px;font-size:10px;transform:scaleX(0.8969);transform-origin:0 0;">1.12215</div><div class="t" style="left:1429.90px;top:466px;font-size:10px;transform:scaleX(0.9159);transform-origin:0 0;">1.11910</div><div class="t" style="left:1429.90px;top:499px;font-size:10px;transform:scaleX(0.9159);transform-origin:0 0;">1.11605</div><div class="t" style="left:1429.90px;top:532px;font-size:10px;transform:scaleX(0.9159);transform-origin:0 0;">1.11305</div><div class="t" style="left:1429.90px;top:565px;font-size:10px;transform:scaleX(0.9159);transform-origin:0 0;">1.11000</div><div class="a" style="left:1426px;top:471px;width:41px;height:11px;background:#000;"></div><div class="a" style="left:1424px;top:476px;width:2px;height:1px;background:#e0e0e0;"></div><div class="t" style="left:1430.00px;top:472px;font-size:10px;transform:scaleX(0.9159);transform-origin:0 0;color:#fff;">1.11854</div><div class="t" style="left:1427.60px;top:577px;font-size:10px;transform:scaleX(0.9043);transform-origin:0 0;">0.003346</div><div class="t" style="left:1427.60px;top:613px;font-size:10px;transform:scaleX(0.8952);transform-origin:0 0;">0.00</div><div class="t" style="left:1427.60px;top:667px;font-size:10px;transform:scaleX(0.8988);transform-origin:0 0;">-0.004885</div><div class="t" style="left:1428.00px;top:683px;font-size:10px;transform:scaleX(0.8509);transform-origin:0 0;">100</div><div class="t" style="left:1426.60px;top:716px;font-size:10px;transform:scaleX(0.8809);transform-origin:0 0;">70</div><div class="t" style="left:1426.60px;top:767px;font-size:10px;transform:scaleX(0.8809);transform-origin:0 0;">30</div><div class="t" style="left:1427.60px;top:799px;letter-spacing:0.000px;font-size:10px;">0</div><div class="t" style="left:7.90px;top:815px;font-size:10px;transform:scaleX(0.9420);transform-origin:0 0;">18 Nov 2018</div><div class="t" style="left:71.90px;top:815px;font-size:10px;transform:scaleX(0.9491);transform-origin:0 0;">27 Nov 2018</div><div class="t" style="left:135.90px;top:815px;font-size:10px;transform:scaleX(0.9154);transform-origin:0 0;">6 Dec 2018</div><div class="t" style="left:199.90px;top:815px;font-size:10px;transform:scaleX(0.9032);transform-origin:0 0;">16 Dec 2018</div><div class="t" style="left:263.90px;top:815px;font-size:10px;transform:scaleX(0.8997);transform-origin:0 0;">25 Dec 2018</div><div class="t" style="left:327.90px;top:815px;font-size:10px;transform:scaleX(0.8889);transform-origin:0 0;">3 Jan 2019</div><div class="t" style="left:391.90px;top:815px;font-size:10px;transform:scaleX(0.8935);transform-origin:0 0;">13 Jan 2019</div><div class="t" style="left:455.90px;top:815px;font-size:10px;transform:scaleX(0.8972);transform-origin:0 0;">22 Jan 2019</div><div class="t" style="left:519.90px;top:815px;font-size:10px;transform:scaleX(0.8972);transform-origin:0 0;">31 Jan 2019</div><div class="t" style="left:583.90px;top:815px;font-size:10px;transform:scaleX(0.9148);transform-origin:0 0;">10 Feb 2019</div><div class="t" style="left:647.90px;top:815px;font-size:10px;transform:scaleX(0.9112);transform-origin:0 0;">19 Feb 2019</div><div class="t" style="left:711.90px;top:815px;font-size:10px;transform:scaleX(0.9077);transform-origin:0 0;">28 Feb 2019</div><div class="t" style="left:775.90px;top:815px;font-size:10px;transform:scaleX(0.9087);transform-origin:0 0;">10 Mar 2019</div><div class="t" style="left:839.90px;top:815px;font-size:10px;transform:scaleX(0.9158);transform-origin:0 0;">19 Mar 2019</div><div class="t" style="left:903.90px;top:815px;font-size:10px;transform:scaleX(0.9122);transform-origin:0 0;">28 Mar 2019</div><div class="t" style="left:967.90px;top:815px;font-size:10px;transform:scaleX(0.9261);transform-origin:0 0;">7 Apr 2019</div><div class="t" style="left:1031.90px;top:815px;font-size:10px;transform:scaleX(0.9270);transform-origin:0 0;">16 Apr 2019</div><div class="t" style="left:1095.90px;top:815px;font-size:10px;transform:scaleX(0.9307);transform-origin:0 0;">26 Apr 2019</div><div class="t" style="left:23.90px;top:36px;font-size:10px;transform:scaleX(0.9368);transform-origin:0 0;">EURUSD-,Daily</div><div class="t" style="left:97.00px;top:36px;font-size:10px;transform:scaleX(0.9102);transform-origin:0 0;">1.11834</div><div class="t" style="left:133.50px;top:36px;font-size:10px;transform:scaleX(0.8961);transform-origin:0 0;">1.11902</div><div class="t" style="left:169.50px;top:36px;font-size:10px;transform:scaleX(0.9018);transform-origin:0 0;">1.11785</div><div class="t" style="left:205.50px;top:36px;font-size:10px;transform:scaleX(0.8933);transform-origin:0 0;">1.11854</div><div class="t" style="left:12.80px;top:579px;font-size:10px;transform:scaleX(0.9266);transform-origin:0 0;">MACD(12,26,9) -0.002902 -0.001965</div><div class="t" style="left:12.80px;top:685px;font-size:10px;transform:scaleX(0.9131);transform-origin:0 0;">RSI(14) 42.6187</div><svg class="a" style="left:12px;top:39px" width="7" height="4" shape-rendering="crispEdges"><path d="M3 0h1v1h-1zM2 1h3v1h-3zM1 2h5v1h-5zM0 3h7v1h-7z" fill="#000"/></svg>
<div class="a" style="left:12px;top:52px;width:219px;height:64px;background:#fff"></div><div class="a rb" style="left:12px;top:52px;width:52px;height:25px;border-bottom:none"></div><div class="a rp" style="left:12px;top:76px;width:109px;height:40px"></div><div class="a rb" style="left:179px;top:52px;width:52px;height:25px;border-bottom:none"></div><div class="a rp" style="left:123px;top:76px;width:108px;height:40px"></div><div class="a" style="left:13px;top:76px;width:50px;height:1px;background:#e03030;"></div><div class="a" style="left:180px;top:76px;width:50px;height:1px;background:#e03030;"></div><div class="a" style="left:16px;top:75px;width:44px;height:1px;background:#8b0000;"></div><div class="a" style="left:16px;top:76px;width:44px;height:1px;background:#ff8080;"></div><div class="a" style="left:183px;top:75px;width:44px;height:1px;background:#8b0000;"></div><div class="a" style="left:183px;top:76px;width:44px;height:1px;background:#ff8080;"></div><div class="t w n" style="left:24.00px;top:57px;font-size:12px;transform:scaleX(0.8613);transform-origin:0 0;">SELL</div><div class="t w n" style="left:192.40px;top:57px;font-size:12px;transform:scaleX(0.9478);transform-origin:0 0;">BUY</div><div class="a" style="left:66px;top:52px;width:111px;height:22px;background:#fff;border:1px solid #a8acb8"></div><div class="a sp" style="left:68px;top:54px;width:19px;height:18px"></div><div class="a sp" style="left:156px;top:54px;width:19px;height:18px"></div><div class="a" style="left:87px;top:53px;width:1px;height:20px;background:#a8acb8;"></div><div class="a" style="left:155px;top:53px;width:1px;height:20px;background:#a8acb8;"></div><svg class="a" style="left:74px;top:61px" width="5" height="3" shape-rendering="crispEdges"><path d="M0 0h5v1h-5zM1 1h3v1h-3zM2 2h1v1h-1z" fill="#4a62b8"/></svg><svg class="a" style="left:163px;top:61px" width="5" height="3" shape-rendering="crispEdges"><path d="M0 2h5v1h-5zM1 1h3v1h-3zM2 0h1v1h-1z" fill="#4a62b8"/></svg><div class="t" style="left:128.70px;top:57px;letter-spacing:-0.058px;font-size:12px;">1.00</div><div class="t w b n" style="left:31.90px;top:96px;letter-spacing:0.171px;font-size:12px;">1.11</div><div class="t w n" style="left:59.50px;top:75px;font-size:35px;transform:scaleX(0.8937);transform-origin:0 0;">85</div><div class="t w b n" style="left:98.60px;top:80px;letter-spacing:0.000px;font-size:12px;">4</div><div class="t w b n" style="left:141.80px;top:96px;letter-spacing:0.204px;font-size:12px;">1.11</div><div class="t w n" style="left:171.10px;top:75px;font-size:35px;transform:scaleX(0.9040);transform-origin:0 0;">87</div><div class="t w b n" style="left:209.80px;top:80px;letter-spacing:0.000px;font-size:12px;">6</div>
<div class="a" style="left:0px;top:831px;width:1470px;height:1px;background:#e3e3e3;"></div><div class="a" style="left:0px;top:832px;width:1470px;height:27px;background:#f0f0f0;"></div><div class="a" style="left:4px;top:833px;width:1466px;height:1px;background:#000;"></div><div class="a" style="left:10px;top:833px;width:108px;height:19px;background:#fff;border:1px solid #000;border-top:none"></div><div class="a" style="left:11px;top:831px;width:106px;height:3px;background:#fff;"></div><div class="a" style="left:4px;top:834px;width:1px;height:19px;background:#696969;"></div><div class="a" style="left:5px;top:834px;width:1px;height:19px;background:#a0a0a0;"></div><div class="a" style="left:6px;top:834px;width:4px;height:18px;background:#fff;"></div><div class="a" style="left:1px;top:832px;width:1px;height:20px;background:#fcfcfc;"></div><div class="a" style="left:0px;top:852px;width:1470px;height:2px;background:#fff;"></div><div class="a" style="left:0px;top:852px;width:6px;height:1px;background:#a0a0a0;"></div><div class="a" style="left:0px;top:857px;width:1469px;height:1px;background:#a0a0a0;"></div><div class="a" style="left:0px;top:858px;width:1470px;height:1px;background:#fff;"></div><div class="t" style="left:20.90px;top:837px;letter-spacing:-0.016px;font-size:12px;">EURUSD-,Daily</div><div class="t" style="left:127.80px;top:837px;letter-spacing:0.151px;font-size:12px;color:#7c7c7c;">AUDUSD-,Daily</div><div class="t" style="left:238.20px;top:837px;letter-spacing:-0.092px;font-size:12px;color:#7c7c7c;">USDCHF-,Daily</div><div class="t" style="left:345.20px;top:837px;letter-spacing:0.026px;font-size:12px;color:#7c7c7c;">USDCAD-,Daily</div><div class="t" style="left:454.10px;top:837px;letter-spacing:0.149px;font-size:12px;color:#7c7c7c;">USDCNH-,Daily</div><div class="a" style="left:226px;top:837px;width:1px;height:13px;background:#808080;"></div><div class="a" style="left:334px;top:837px;width:1px;height:13px;background:#808080;"></div><div class="a" style="left:442px;top:837px;width:1px;height:13px;background:#808080;"></div><div class="a" style="left:554px;top:837px;width:1px;height:13px;background:#808080;"></div><svg class="a" style="left:1439px;top:839px" width="5" height="8"><path d="M4.5 0v7l-4-3.5z" fill="#a0a0a0"/></svg><svg class="a" style="left:1458px;top:839px" width="5" height="8"><path d="M0.5 0v7l4-3.5z" fill="#a0a0a0"/></svg>
</body></html>
